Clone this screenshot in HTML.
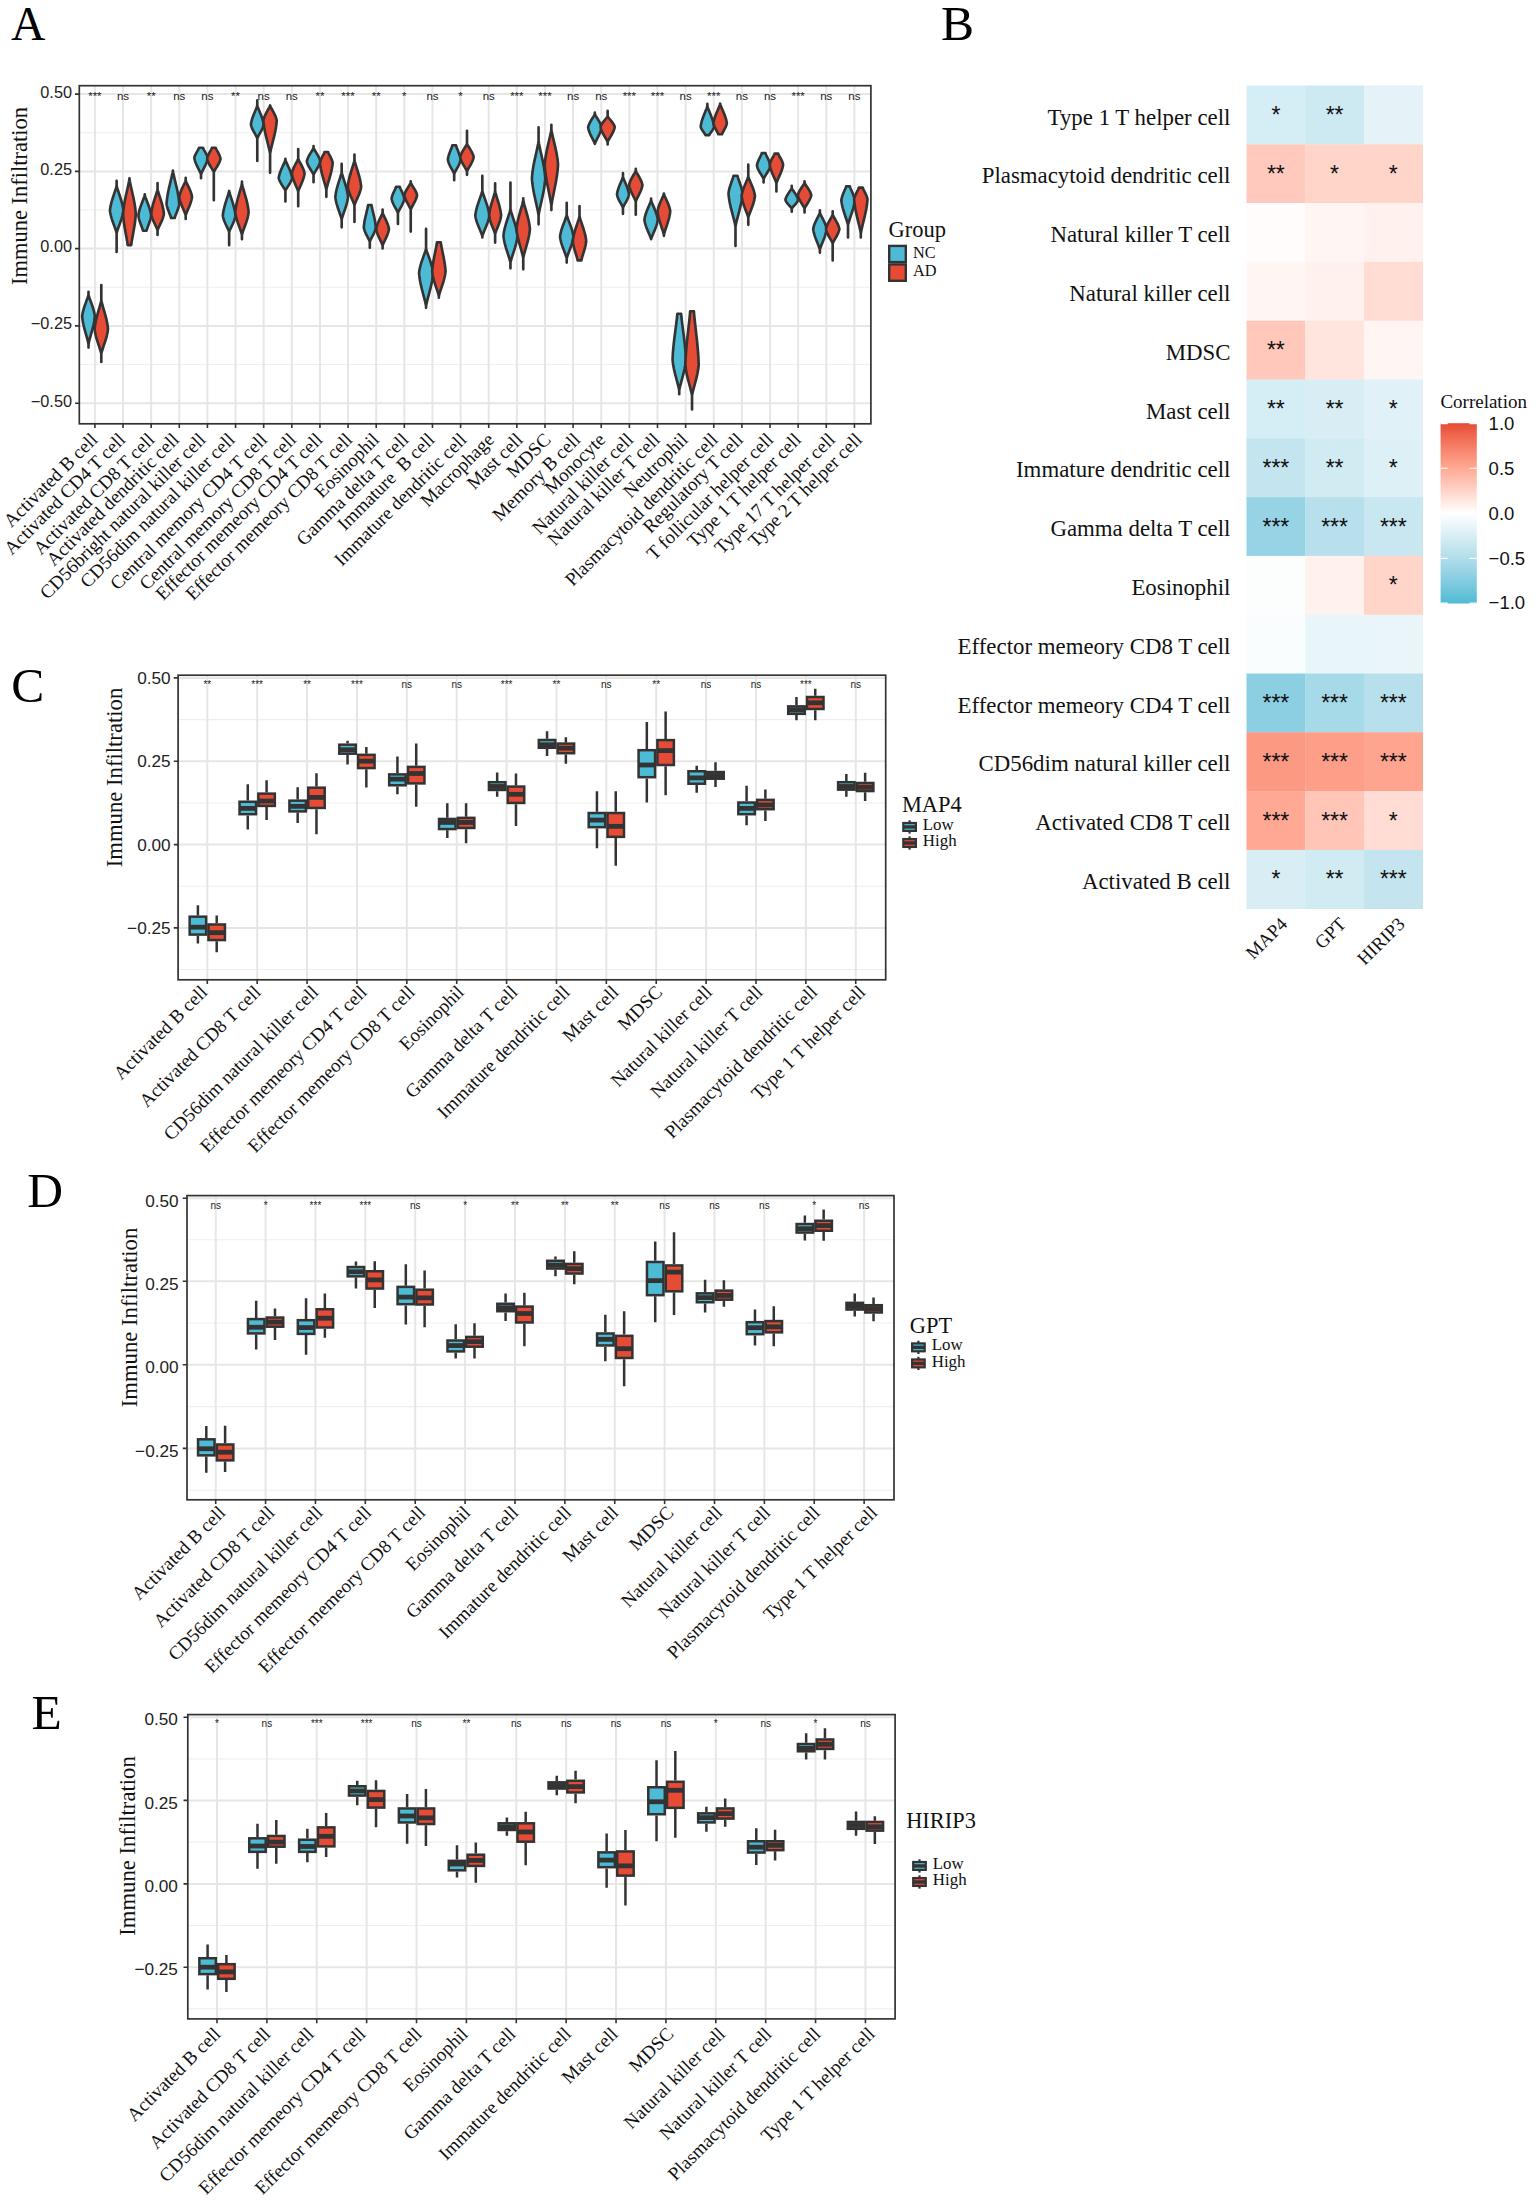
<!DOCTYPE html>
<html lang="en"><head><meta charset="utf-8"><title>Immune infiltration figure</title>
<style>html,body{margin:0;padding:0;background:#fff}svg{display:block}</style></head><body>
<svg width="1535" height="2202" viewBox="0 0 1535 2202">
<rect width="1535" height="2202" fill="#fff"/>
<g font-family="'Liberation Serif',serif" font-size="49.5" fill="#000">
<text x="10.9" y="39.9" font-size="47.6">A</text>
<text x="940.9" y="39.9">B</text>
<text x="11.2" y="702.4">C</text>
<text x="27.2" y="1207.3">D</text>
<text x="31.6" y="1729.0">E</text>
</g>
<rect x="79.3" y="85.7" width="791.6" height="338.1" fill="#fff"/>
<path d="M79.3 132.75H870.9M79.3 210H870.9M79.3 287.25H870.9M79.3 364.55H870.9" stroke="#efefef" stroke-width="1.1" fill="none"/>
<path d="M79.3 94.1H870.9M79.3 171.4H870.9M79.3 248.6H870.9M79.3 325.9H870.9M79.3 403.2H870.9M94.9 85.7V423.8M123.03 85.7V423.8M151.16 85.7V423.8M179.29 85.7V423.8M207.42 85.7V423.8M235.55 85.7V423.8M263.68 85.7V423.8M291.81 85.7V423.8M319.94 85.7V423.8M348.07 85.7V423.8M376.2 85.7V423.8M404.33 85.7V423.8M432.46 85.7V423.8M460.59 85.7V423.8M488.72 85.7V423.8M516.85 85.7V423.8M544.98 85.7V423.8M573.11 85.7V423.8M601.24 85.7V423.8M629.37 85.7V423.8M657.5 85.7V423.8M685.63 85.7V423.8M713.76 85.7V423.8M741.89 85.7V423.8M770.02 85.7V423.8M798.15 85.7V423.8M826.28 85.7V423.8M854.41 85.7V423.8" stroke="#e6e6e6" stroke-width="2" fill="none"/>
<g font-family="'Liberation Sans',sans-serif" font-size="11.5" fill="#222" text-anchor="middle">
<text x="94.9" y="100.3">***</text>
<text x="123.03" y="100.3">ns</text>
<text x="151.16" y="100.3">**</text>
<text x="179.29" y="100.3">ns</text>
<text x="207.42" y="100.3">ns</text>
<text x="235.55" y="100.3">**</text>
<text x="263.68" y="100.3">ns</text>
<text x="291.81" y="100.3">ns</text>
<text x="319.94" y="100.3">**</text>
<text x="348.07" y="100.3">***</text>
<text x="376.2" y="100.3">**</text>
<text x="404.33" y="100.3">*</text>
<text x="432.46" y="100.3">ns</text>
<text x="460.59" y="100.3">*</text>
<text x="488.72" y="100.3">ns</text>
<text x="516.85" y="100.3">***</text>
<text x="544.98" y="100.3">***</text>
<text x="573.11" y="100.3">ns</text>
<text x="601.24" y="100.3">ns</text>
<text x="629.37" y="100.3">***</text>
<text x="657.5" y="100.3">***</text>
<text x="685.63" y="100.3">ns</text>
<text x="713.76" y="100.3">***</text>
<text x="741.89" y="100.3">ns</text>
<text x="770.02" y="100.3">ns</text>
<text x="798.15" y="100.3">***</text>
<text x="826.28" y="100.3">ns</text>
<text x="854.41" y="100.3">ns</text>
</g>
<g stroke="#333333" stroke-width="2.65" stroke-linejoin="round" stroke-linecap="butt">
<path d="M88.5 291.72L88.5 294.59L88.89 296.14L89.39 297.69L89.93 299.24L90.49 300.79L91.06 302.34L91.62 303.88L92.18 305.43L92.7 306.98L93.19 308.53L93.64 310.08L94.04 311.63L94.37 313.18L94.64 314.73L94.84 316.28L94.64 318.27L94.37 320.27L94.04 322.26L93.64 324.25L93.19 326.24L92.7 328.24L92.18 330.23L91.62 332.22L91.06 334.22L90.49 336.21L89.93 338.2L89.39 340.2L88.89 342.19L88.5 344.18L88.5 347.62L88.5 344.18L88.11 342.19L87.61 340.2L87.07 338.2L86.51 336.21L85.94 334.22L85.38 332.22L84.82 330.23L84.3 328.24L83.81 326.24L83.36 324.25L82.96 322.26L82.63 320.27L82.36 318.27L82.16 316.28L82.36 314.73L82.63 313.18L82.96 311.63L83.36 310.08L83.81 308.53L84.3 306.98L84.82 305.43L85.38 303.88L85.94 302.34L86.51 300.79L87.07 299.24L87.61 297.69L88.11 296.14L88.5 294.59L88.5 291.72Z" fill="#4DBBD5"/>
<path d="M101.3 284.95L101.3 300.05L101.72 302.12L102.24 304.19L102.81 306.25L103.4 308.32L104 310.38L104.59 312.45L105.17 314.52L105.73 316.58L106.25 318.65L106.72 320.72L107.13 322.78L107.49 324.85L107.77 326.91L107.98 328.98L107.77 330.75L107.49 332.52L107.13 334.29L106.72 336.07L106.25 337.84L105.73 339.61L105.17 341.38L104.59 343.15L104 344.92L103.4 346.7L102.81 348.47L102.24 350.24L101.72 352.01L101.3 353.78L101.3 362.01L101.3 353.78L100.88 352.01L100.36 350.24L99.79 348.47L99.2 346.7L98.6 344.92L98.01 343.15L97.43 341.38L96.87 339.61L96.35 337.84L95.88 336.07L95.47 334.29L95.11 332.52L94.83 330.75L94.62 328.98L94.83 326.91L95.11 324.85L95.47 322.78L95.88 320.72L96.35 318.65L96.87 316.58L97.43 314.52L98.01 312.45L98.6 310.38L99.2 308.32L99.79 306.25L100.36 304.19L100.88 302.12L101.3 300.05L101.3 284.95Z" fill="#E64B35"/>
<path d="M116.63 180.78L116.63 185.62L117.05 187.39L117.57 189.16L118.14 190.93L118.73 192.7L119.33 194.48L119.92 196.25L120.5 198.02L121.06 199.79L121.58 201.56L122.05 203.33L122.46 205.11L122.82 206.88L123.1 208.65L123.31 210.42L123.1 212.04L122.82 213.67L122.46 215.29L122.05 216.91L121.58 218.54L121.06 220.16L120.5 221.78L119.92 223.41L119.33 225.03L118.73 226.65L118.14 228.28L117.57 229.9L117.05 231.53L116.63 233.15L116.63 251.92L116.63 233.15L116.21 231.53L115.69 229.9L115.12 228.28L114.53 226.65L113.93 225.03L113.34 223.41L112.76 221.78L112.2 220.16L111.68 218.54L111.21 216.91L110.8 215.29L110.44 213.67L110.16 212.04L109.95 210.42L110.16 208.65L110.44 206.88L110.8 205.11L111.21 203.33L111.68 201.56L112.2 199.79L112.76 198.02L113.34 196.25L113.93 194.48L114.53 192.7L115.12 190.93L115.69 189.16L116.21 187.39L116.63 185.62L116.63 180.78Z" fill="#4DBBD5"/>
<path d="M129.43 178.24L129.43 178.67L129.82 181.18L130.32 183.69L130.86 186.2L131.42 188.71L131.99 191.22L132.55 193.73L133.11 196.24L133.63 198.75L134.12 201.26L134.57 203.77L134.97 206.28L135.3 208.79L135.57 211.3L135.77 213.81L135.63 216.05L135.43 218.29L135.19 220.52L134.91 222.76L134.58 225L134.23 227.24L133.85 229.47L133.45 231.71L133.05 233.95L132.64 236.19L132.23 238.43L131.85 240.66L131.49 242.9L131.21 245.14L127.65 245.14L127.37 242.9L127.01 240.66L126.63 238.43L126.22 236.19L125.81 233.95L125.41 231.71L125.01 229.47L124.63 227.24L124.28 225L123.95 222.76L123.67 220.52L123.43 218.29L123.23 216.05L123.09 213.81L123.29 211.3L123.56 208.79L123.89 206.28L124.29 203.77L124.74 201.26L125.23 198.75L125.75 196.24L126.31 193.73L126.87 191.22L127.44 188.71L128 186.2L128.54 183.69L129.04 181.18L129.43 178.67L129.43 178.24Z" fill="#E64B35"/>
<path d="M144.76 194.33L144.76 194.83L145.15 196.31L145.65 197.79L146.19 199.26L146.75 200.74L147.32 202.21L147.88 203.69L148.44 205.17L148.96 206.64L149.45 208.12L149.9 209.6L150.3 211.07L150.63 212.55L150.9 214.02L151.1 215.5L150.96 216.59L150.76 217.68L150.52 218.77L150.24 219.86L149.91 220.95L149.56 222.04L149.18 223.12L148.78 224.21L148.38 225.3L147.97 226.39L147.56 227.48L147.18 228.57L146.82 229.66L146.54 230.75L142.98 230.75L142.7 229.66L142.34 228.57L141.96 227.48L141.55 226.39L141.14 225.3L140.74 224.21L140.34 223.12L139.96 222.04L139.61 220.95L139.28 219.86L139 218.77L138.76 217.68L138.56 216.59L138.42 215.5L138.62 214.02L138.89 212.55L139.22 211.07L139.62 209.6L140.07 208.12L140.56 206.64L141.08 205.17L141.64 203.69L142.2 202.21L142.77 200.74L143.33 199.26L143.87 197.79L144.37 196.31L144.76 194.83L144.76 194.33Z" fill="#4DBBD5"/>
<path d="M157.56 182.98L157.56 189.01L157.95 190.78L158.45 192.55L158.99 194.32L159.55 196.09L160.12 197.87L160.68 199.64L161.24 201.41L161.76 203.18L162.25 204.95L162.7 206.72L163.1 208.5L163.43 210.27L163.7 212.04L163.9 213.81L163.7 214.99L163.43 216.17L163.1 217.35L162.7 218.53L162.25 219.71L161.76 220.89L161.24 222.08L160.68 223.26L160.12 224.44L159.55 225.62L158.99 226.8L158.45 227.98L157.95 229.16L157.56 230.34L157.56 234.98L157.56 230.34L157.17 229.16L156.67 227.98L156.13 226.8L155.57 225.62L155 224.44L154.44 223.26L153.88 222.08L153.36 220.89L152.87 219.71L152.42 218.53L152.02 217.35L151.69 216.17L151.42 214.99L151.22 213.81L151.42 212.04L151.69 210.27L152.02 208.5L152.42 206.72L152.87 204.95L153.36 203.18L153.88 201.41L154.44 199.64L155 197.87L155.57 196.09L156.13 194.32L156.67 192.55L157.17 190.78L157.56 189.01L157.56 182.98Z" fill="#E64B35"/>
<path d="M172.89 170.62L172.89 170.62L173.28 172.98L173.78 175.34L174.32 177.7L174.88 180.05L175.45 182.41L176.01 184.77L176.57 187.13L177.09 189.49L177.58 191.85L178.03 194.21L178.43 196.56L178.76 198.92L179.03 201.28L179.23 203.64L179.09 204.67L178.89 205.7L178.65 206.73L178.37 207.75L178.04 208.78L177.69 209.81L177.31 210.84L176.91 211.87L176.51 212.9L176.1 213.93L175.69 214.95L175.31 215.98L174.95 217.01L174.67 218.04L171.11 218.04L170.83 217.01L170.47 215.98L170.09 214.95L169.68 213.93L169.27 212.9L168.87 211.87L168.47 210.84L168.09 209.81L167.74 208.78L167.41 207.75L167.13 206.73L166.89 205.7L166.69 204.67L166.55 203.64L166.75 201.28L167.02 198.92L167.35 196.56L167.75 194.21L168.2 191.85L168.69 189.49L169.21 187.13L169.77 184.77L170.33 182.41L170.9 180.05L171.46 177.7L172 175.34L172.5 172.98L172.89 170.62L172.89 170.62Z" fill="#4DBBD5"/>
<path d="M185.69 177.9L185.69 180.34L186.08 181.52L186.58 182.7L187.12 183.88L187.68 185.06L188.25 186.24L188.81 187.42L189.37 188.6L189.89 189.79L190.38 190.97L190.83 192.15L191.23 193.33L191.56 194.51L191.83 195.69L192.03 196.87L191.83 198.2L191.56 199.53L191.23 200.85L190.83 202.18L190.38 203.51L189.89 204.84L189.37 206.17L188.81 207.49L188.25 208.82L187.68 210.15L187.12 211.48L186.58 212.81L186.08 214.13L185.69 215.46L185.69 218.89L185.69 215.46L185.3 214.13L184.8 212.81L184.26 211.48L183.7 210.15L183.13 208.82L182.57 207.49L182.01 206.17L181.49 204.84L181 203.51L180.55 202.18L180.15 200.85L179.82 199.53L179.55 198.2L179.35 196.87L179.55 195.69L179.82 194.51L180.15 193.33L180.55 192.15L181 190.97L181.49 189.79L182.01 188.6L182.57 187.42L183.13 186.24L183.7 185.06L184.26 183.88L184.8 182.7L185.3 181.52L185.69 180.34L185.69 177.9Z" fill="#E64B35"/>
<path d="M202.89 147.75L203.19 148.48L203.57 149.2L203.97 149.93L204.4 150.65L204.83 151.38L205.26 152.1L205.68 152.83L206.08 153.56L206.45 154.28L206.79 155.01L207.09 155.73L207.35 156.46L207.55 157.18L207.7 157.91L207.49 159.09L207.21 160.27L206.85 161.45L206.44 162.63L205.97 163.81L205.45 164.99L204.89 166.18L204.31 167.36L203.72 168.54L203.12 169.72L202.53 170.9L201.96 172.08L201.44 173.26L201.02 174.44L201.02 178.24L201.02 174.44L200.6 173.26L200.08 172.08L199.51 170.9L198.92 169.72L198.32 168.54L197.73 167.36L197.15 166.18L196.59 164.99L196.07 163.81L195.6 162.63L195.19 161.45L194.83 160.27L194.55 159.09L194.34 157.91L194.49 157.18L194.69 156.46L194.95 155.73L195.25 155.01L195.59 154.28L195.96 153.56L196.36 152.83L196.78 152.1L197.21 151.38L197.64 150.65L198.07 149.93L198.47 149.2L198.85 148.48L199.15 147.75Z" fill="#4DBBD5"/>
<path d="M215.69 147.75L215.99 148.54L216.37 149.32L216.77 150.11L217.2 150.9L217.63 151.68L218.06 152.47L218.48 153.25L218.88 154.04L219.25 154.83L219.59 155.61L219.89 156.4L220.15 157.19L220.35 157.97L220.5 158.76L220.29 159.72L220.01 160.68L219.65 161.64L219.24 162.6L218.77 163.56L218.25 164.52L217.69 165.48L217.11 166.44L216.52 167.39L215.92 168.35L215.33 169.31L214.76 170.27L214.24 171.23L213.82 172.19L213.82 200.26L213.82 172.19L213.4 171.23L212.88 170.27L212.31 169.31L211.72 168.35L211.12 167.39L210.53 166.44L209.95 165.48L209.39 164.52L208.87 163.56L208.4 162.6L207.99 161.64L207.63 160.68L207.35 159.72L207.14 158.76L207.29 157.97L207.49 157.19L207.75 156.4L208.05 155.61L208.39 154.83L208.76 154.04L209.16 153.25L209.58 152.47L210.01 151.68L210.44 150.9L210.87 150.11L211.27 149.32L211.65 148.54L211.95 147.75Z" fill="#E64B35"/>
<path d="M229.15 190.94L229.15 190.94L229.54 192.69L230.04 194.45L230.58 196.2L231.14 197.96L231.71 199.71L232.27 201.47L232.83 203.22L233.35 204.97L233.84 206.73L234.29 208.48L234.69 210.24L235.02 211.99L235.29 213.75L235.49 215.5L235.29 216.68L235.02 217.86L234.69 219.04L234.29 220.22L233.84 221.4L233.35 222.58L232.83 223.77L232.27 224.95L231.71 226.13L231.14 227.31L230.58 228.49L230.04 229.67L229.54 230.85L229.15 232.03L229.15 245.14L229.15 232.03L228.76 230.85L228.26 229.67L227.72 228.49L227.16 227.31L226.59 226.13L226.03 224.95L225.47 223.77L224.95 222.58L224.46 221.4L224.01 220.22L223.61 219.04L223.28 217.86L223.01 216.68L222.81 215.5L223.01 213.75L223.28 211.99L223.61 210.24L224.01 208.48L224.46 206.73L224.95 204.97L225.47 203.22L226.03 201.47L226.59 199.71L227.16 197.96L227.72 196.2L228.26 194.45L228.76 192.69L229.15 190.94L229.15 190.94Z" fill="#4DBBD5"/>
<path d="M241.95 181.63L241.95 183.18L242.37 185.25L242.89 187.32L243.46 189.38L244.05 191.45L244.65 193.51L245.24 195.58L245.82 197.65L246.38 199.71L246.9 201.78L247.37 203.85L247.78 205.91L248.14 207.98L248.42 210.04L248.63 212.11L248.42 213.73L248.14 215.36L247.78 216.98L247.37 218.61L246.9 220.23L246.38 221.86L245.82 223.48L245.24 225.1L244.65 226.73L244.05 228.35L243.46 229.98L242.89 231.6L242.37 233.23L241.95 234.85L241.95 239.21L241.95 234.85L241.53 233.23L241.01 231.6L240.44 229.98L239.85 228.35L239.25 226.73L238.66 225.1L238.08 223.48L237.52 221.86L237 220.23L236.53 218.61L236.12 216.98L235.76 215.36L235.48 213.73L235.27 212.11L235.48 210.04L235.76 207.98L236.12 205.91L236.53 203.85L237 201.78L237.52 199.71L238.08 197.65L238.66 195.58L239.25 193.51L239.85 191.45L240.44 189.38L241.01 187.32L241.53 185.25L241.95 183.18L241.95 181.63Z" fill="#E64B35"/>
<path d="M257.28 100.33L257.28 105.36L257.67 106.72L258.17 108.08L258.71 109.44L259.27 110.79L259.84 112.15L260.4 113.51L260.96 114.87L261.48 116.23L261.97 117.59L262.42 118.95L262.82 120.3L263.15 121.66L263.42 123.02L263.62 124.38L263.42 125.38L263.15 126.39L262.82 127.39L262.42 128.39L261.97 129.4L261.48 130.4L260.96 131.4L260.4 132.4L259.84 133.41L259.27 134.41L258.71 135.41L258.17 136.42L257.67 137.42L257.28 138.42L257.28 160.96L257.28 138.42L256.89 137.42L256.39 136.42L255.85 135.41L255.29 134.41L254.72 133.41L254.16 132.4L253.6 131.4L253.08 130.4L252.59 129.4L252.14 128.39L251.74 127.39L251.41 126.39L251.14 125.38L250.94 124.38L251.14 123.02L251.41 121.66L251.74 120.3L252.14 118.95L252.59 117.59L253.08 116.23L253.6 114.87L254.16 113.51L254.72 112.15L255.29 110.79L255.85 109.44L256.39 108.08L256.89 106.72L257.28 105.36L257.28 100.33Z" fill="#4DBBD5"/>
<path d="M270.08 105.41L270.08 105.41L270.5 106.5L271.02 107.59L271.59 108.68L272.18 109.76L272.78 110.85L273.37 111.94L273.95 113.03L274.51 114.12L275.03 115.21L275.5 116.3L275.91 117.38L276.27 118.47L276.55 119.56L276.76 120.65L276.55 123.01L276.27 125.37L275.91 127.73L275.5 130.1L275.03 132.46L274.51 134.82L273.95 137.18L273.37 139.54L272.78 141.9L272.18 144.27L271.59 146.63L271.02 148.99L270.5 151.35L270.08 153.71L270.08 172.82L270.08 153.71L269.66 151.35L269.14 148.99L268.57 146.63L267.98 144.27L267.38 141.9L266.79 139.54L266.21 137.18L265.65 134.82L265.13 132.46L264.66 130.1L264.25 127.73L263.89 125.37L263.61 123.01L263.4 120.65L263.61 119.56L263.89 118.47L264.25 117.38L264.66 116.3L265.13 115.21L265.65 114.12L266.21 113.03L266.79 111.94L267.38 110.85L267.98 109.76L268.57 108.68L269.14 107.59L269.66 106.5L270.08 105.41L270.08 105.41Z" fill="#E64B35"/>
<path d="M285.41 158.76L285.41 159.71L285.83 161.01L286.35 162.31L286.92 163.61L287.51 164.91L288.11 166.21L288.7 167.51L289.28 168.8L289.84 170.1L290.36 171.4L290.83 172.7L291.24 174L291.6 175.3L291.88 176.6L292.09 177.9L291.88 178.81L291.6 179.73L291.24 180.65L290.83 181.56L290.36 182.47L289.84 183.39L289.28 184.31L288.7 185.22L288.11 186.14L287.51 187.05L286.92 187.97L286.35 188.88L285.83 189.8L285.41 190.71L285.41 201.44L285.41 190.71L284.99 189.8L284.47 188.88L283.9 187.97L283.31 187.05L282.71 186.14L282.12 185.22L281.54 184.31L280.98 183.39L280.46 182.47L279.99 181.56L279.58 180.65L279.22 179.73L278.94 178.81L278.73 177.9L278.94 176.6L279.22 175.3L279.58 174L279.99 172.7L280.46 171.4L280.98 170.1L281.54 168.8L282.12 167.51L282.71 166.21L283.31 164.91L283.9 163.61L284.47 162.31L284.99 161.01L285.41 159.71L285.41 158.76Z" fill="#4DBBD5"/>
<path d="M298.21 149.11L298.21 158.62L298.6 159.68L299.1 160.74L299.64 161.81L300.2 162.87L300.77 163.93L301.33 164.99L301.89 166.06L302.41 167.12L302.9 168.18L303.35 169.25L303.75 170.31L304.08 171.37L304.35 172.44L304.55 173.5L304.35 174.8L304.08 176.1L303.75 177.4L303.35 178.69L302.9 179.99L302.41 181.29L301.89 182.59L301.33 183.89L300.77 185.19L300.2 186.48L299.64 187.78L299.1 189.08L298.6 190.38L298.21 191.68L298.21 206.19L298.21 191.68L297.82 190.38L297.32 189.08L296.78 187.78L296.22 186.48L295.65 185.19L295.09 183.89L294.53 182.59L294.01 181.29L293.52 179.99L293.07 178.69L292.67 177.4L292.34 176.1L292.07 174.8L291.87 173.5L292.07 172.44L292.34 171.37L292.67 170.31L293.07 169.25L293.52 168.18L294.01 167.12L294.53 166.06L295.09 164.99L295.65 163.93L296.22 162.87L296.78 161.81L297.32 160.74L297.82 159.68L298.21 158.62L298.21 149.11Z" fill="#E64B35"/>
<path d="M313.54 146.06L313.54 147.87L313.96 148.83L314.48 149.79L315.05 150.75L315.64 151.71L316.24 152.67L316.83 153.62L317.41 154.58L317.97 155.54L318.49 156.5L318.96 157.46L319.37 158.42L319.73 159.38L320.01 160.34L320.22 161.3L320.01 162.26L319.73 163.22L319.37 164.18L318.96 165.14L318.49 166.1L317.97 167.06L317.41 168.02L316.83 168.98L316.24 169.93L315.64 170.89L315.05 171.85L314.48 172.81L313.96 173.77L313.54 174.73L313.54 182.13L313.54 174.73L313.12 173.77L312.6 172.81L312.03 171.85L311.44 170.89L310.84 169.93L310.25 168.98L309.67 168.02L309.11 167.06L308.59 166.1L308.12 165.14L307.71 164.18L307.35 163.22L307.07 162.26L306.86 161.3L307.07 160.34L307.35 159.38L307.71 158.42L308.12 157.46L308.59 156.5L309.11 155.54L309.67 154.58L310.25 153.62L310.84 152.67L311.44 151.71L312.03 150.75L312.6 149.79L313.12 148.83L313.54 147.87L313.54 146.06Z" fill="#4DBBD5"/>
<path d="M328.12 151.99L328.4 152.78L328.76 153.56L329.14 154.35L329.55 155.13L329.96 155.92L330.36 156.7L330.76 157.49L331.14 158.28L331.49 159.06L331.82 159.85L332.1 160.63L332.34 161.42L332.54 162.2L332.68 162.99L332.48 164.91L332.21 166.83L331.88 168.75L331.48 170.67L331.03 172.58L330.54 174.5L330.02 176.42L329.46 178.34L328.9 180.26L328.33 182.18L327.77 184.1L327.23 186.02L326.73 187.94L326.34 189.85L326.34 196.87L326.34 189.85L325.95 187.94L325.45 186.02L324.91 184.1L324.35 182.18L323.78 180.26L323.22 178.34L322.66 176.42L322.14 174.5L321.65 172.58L321.2 170.67L320.8 168.75L320.47 166.83L320.2 164.91L320 162.99L320.14 162.2L320.34 161.42L320.58 160.63L320.86 159.85L321.19 159.06L321.54 158.28L321.92 157.49L322.32 156.7L322.72 155.92L323.13 155.13L323.54 154.35L323.92 153.56L324.28 152.78L324.56 151.99Z" fill="#E64B35"/>
<path d="M341.67 163.84L341.67 172.07L342.06 173.84L342.56 175.61L343.1 177.38L343.66 179.15L344.23 180.93L344.79 182.7L345.35 184.47L345.87 186.24L346.36 188.01L346.81 189.78L347.21 191.56L347.54 193.33L347.81 195.1L348.01 196.87L347.81 198.49L347.54 200.12L347.21 201.74L346.81 203.36L346.36 204.99L345.87 206.61L345.35 208.23L344.79 209.86L344.23 211.48L343.66 213.1L343.1 214.73L342.56 216.35L342.06 217.98L341.67 219.6L341.67 227.36L341.67 219.6L341.28 217.98L340.78 216.35L340.24 214.73L339.68 213.1L339.11 211.48L338.55 209.86L337.99 208.23L337.47 206.61L336.98 204.99L336.53 203.36L336.13 201.74L335.8 200.12L335.53 198.49L335.33 196.87L335.53 195.1L335.8 193.33L336.13 191.56L336.53 189.78L336.98 188.01L337.47 186.24L337.99 184.47L338.55 182.7L339.11 180.93L339.68 179.15L340.24 177.38L340.78 175.61L341.28 173.84L341.67 172.07L341.67 163.84Z" fill="#4DBBD5"/>
<path d="M354.47 154.53L354.47 159.85L354.89 161.76L355.41 163.68L355.98 165.6L356.57 167.52L357.17 169.44L357.76 171.36L358.34 173.28L358.9 175.2L359.42 177.12L359.89 179.03L360.3 180.95L360.66 182.87L360.94 184.79L361.15 186.71L360.94 188.04L360.66 189.37L360.3 190.69L359.89 192.02L359.42 193.35L358.9 194.68L358.34 196.01L357.76 197.33L357.17 198.66L356.57 199.99L355.98 201.32L355.41 202.65L354.89 203.97L354.47 205.3L354.47 221.94L354.47 205.3L354.05 203.97L353.53 202.65L352.96 201.32L352.37 199.99L351.77 198.66L351.18 197.33L350.6 196.01L350.04 194.68L349.52 193.35L349.05 192.02L348.64 190.69L348.28 189.37L348 188.04L347.79 186.71L348 184.79L348.28 182.87L348.64 180.95L349.05 179.03L349.52 177.12L350.04 175.2L350.6 173.28L351.18 171.36L351.77 169.44L352.37 167.52L352.96 165.6L353.53 163.68L354.05 161.76L354.47 159.85L354.47 154.53Z" fill="#E64B35"/>
<path d="M371.48 205L371.75 206.6L372.09 208.19L372.45 209.79L372.84 211.39L373.22 212.99L373.61 214.58L373.98 216.18L374.34 217.78L374.68 219.37L374.98 220.97L375.25 222.57L375.48 224.17L375.67 225.76L375.8 227.36L375.61 228.39L375.36 229.43L375.04 230.46L374.67 231.49L374.24 232.52L373.78 233.56L373.28 234.59L372.76 235.62L372.22 236.65L371.68 237.69L371.15 238.72L370.64 239.75L370.17 240.78L369.8 241.82L369.8 247.68L369.8 241.82L369.43 240.78L368.96 239.75L368.45 238.72L367.92 237.69L367.38 236.65L366.84 235.62L366.32 234.59L365.82 233.56L365.36 232.52L364.93 231.49L364.56 230.46L364.24 229.43L363.99 228.39L363.8 227.36L363.93 225.76L364.12 224.17L364.35 222.57L364.62 220.97L364.92 219.37L365.26 217.78L365.62 216.18L365.99 214.58L366.38 212.99L366.76 211.39L367.15 209.79L367.51 208.19L367.85 206.6L368.12 205Z" fill="#4DBBD5"/>
<path d="M382.6 209.57L382.6 212.52L382.99 213.7L383.49 214.88L384.03 216.06L384.59 217.24L385.16 218.42L385.72 219.6L386.28 220.78L386.8 221.97L387.29 223.15L387.74 224.33L388.14 225.51L388.47 226.69L388.74 227.87L388.94 229.05L388.74 230.23L388.47 231.41L388.14 232.59L387.74 233.77L387.29 234.95L386.8 236.13L386.28 237.32L385.72 238.5L385.16 239.68L384.59 240.86L384.03 242.04L383.49 243.22L382.99 244.4L382.6 245.58L382.6 248.53L382.6 245.58L382.21 244.4L381.71 243.22L381.17 242.04L380.61 240.86L380.04 239.68L379.48 238.5L378.92 237.32L378.4 236.13L377.91 234.95L377.46 233.77L377.06 232.59L376.73 231.41L376.46 230.23L376.26 229.05L376.46 227.87L376.73 226.69L377.06 225.51L377.46 224.33L377.91 223.15L378.4 221.97L378.92 220.78L379.48 219.6L380.04 218.42L380.61 217.24L381.17 216.06L381.71 214.88L382.21 213.7L382.6 212.52L382.6 209.57Z" fill="#E64B35"/>
<path d="M399.71 186.71L399.99 187.56L400.35 188.4L400.73 189.25L401.14 190.1L401.55 190.94L401.95 191.79L402.35 192.63L402.73 193.48L403.08 194.33L403.41 195.17L403.69 196.02L403.93 196.87L404.13 197.71L404.27 198.56L404.07 199.59L403.8 200.63L403.47 201.66L403.07 202.69L402.62 203.73L402.13 204.76L401.61 205.79L401.05 206.83L400.49 207.86L399.92 208.9L399.36 209.93L398.82 210.96L398.32 212L397.93 213.03L397.93 223.97L397.93 213.03L397.54 212L397.04 210.96L396.5 209.93L395.94 208.9L395.37 207.86L394.81 206.83L394.25 205.79L393.73 204.76L393.24 203.73L392.79 202.69L392.39 201.66L392.06 200.63L391.79 199.59L391.59 198.56L391.73 197.71L391.93 196.87L392.17 196.02L392.45 195.17L392.78 194.33L393.13 193.48L393.51 192.63L393.91 191.79L394.31 190.94L394.72 190.1L395.13 189.25L395.51 188.4L395.87 187.56L396.15 186.71Z" fill="#4DBBD5"/>
<path d="M410.73 181.29L410.73 182.77L411.12 183.66L411.62 184.55L412.16 185.43L412.72 186.32L413.29 187.2L413.85 188.09L414.41 188.98L414.93 189.86L415.42 190.75L415.87 191.64L416.27 192.52L416.6 193.41L416.87 194.29L417.07 195.18L416.87 196.21L416.6 197.25L416.27 198.28L415.87 199.31L415.42 200.34L414.93 201.38L414.41 202.41L413.85 203.44L413.29 204.47L412.72 205.51L412.16 206.54L411.62 207.57L411.12 208.6L410.73 209.64L410.73 231.59L410.73 209.64L410.34 208.6L409.84 207.57L409.3 206.54L408.74 205.51L408.17 204.47L407.61 203.44L407.05 202.41L406.53 201.38L406.04 200.34L405.59 199.31L405.19 198.28L404.86 197.25L404.59 196.21L404.39 195.18L404.59 194.29L404.86 193.41L405.19 192.52L405.59 191.64L406.04 190.75L406.53 189.86L407.05 188.98L407.61 188.09L408.17 187.2L408.74 186.32L409.3 185.43L409.84 184.55L410.34 183.66L410.73 182.77L410.73 181.29Z" fill="#E64B35"/>
<path d="M426.06 228.71L426.06 248.29L426.5 250.06L427.04 251.83L427.64 253.6L428.26 255.37L428.89 257.15L429.51 258.92L430.12 260.69L430.71 262.46L431.25 264.23L431.75 266L432.18 267.78L432.55 269.55L432.85 271.32L433.07 273.09L432.85 275.45L432.55 277.81L432.18 280.17L431.75 282.54L431.25 284.9L430.71 287.26L430.12 289.62L429.51 291.98L428.89 294.34L428.26 296.71L427.64 299.07L427.04 301.43L426.5 303.79L426.06 306.15L426.06 307.81L426.06 306.15L425.62 303.79L425.08 301.43L424.48 299.07L423.86 296.71L423.23 294.34L422.61 291.98L422 289.62L421.41 287.26L420.87 284.9L420.37 282.54L419.94 280.17L419.57 277.81L419.27 275.45L419.05 273.09L419.27 271.32L419.57 269.55L419.94 267.78L420.37 266L420.87 264.23L421.41 262.46L422 260.69L422.61 258.92L423.23 257.15L423.86 255.37L424.48 253.6L425.08 251.83L425.62 250.06L426.06 248.29L426.06 228.71Z" fill="#4DBBD5"/>
<path d="M440.73 242.26L441.03 244.34L441.41 246.42L441.81 248.5L442.24 250.59L442.67 252.67L443.1 254.75L443.52 256.83L443.92 258.91L444.29 260.99L444.63 263.07L444.93 265.16L445.19 267.24L445.39 269.32L445.54 271.4L445.33 273.17L445.05 274.94L444.69 276.71L444.28 278.48L443.81 280.25L443.29 282.02L442.73 283.8L442.15 285.57L441.56 287.34L440.96 289.11L440.37 290.88L439.8 292.65L439.28 294.42L438.86 296.19L438.86 297.65L438.86 296.19L438.44 294.42L437.92 292.65L437.35 290.88L436.76 289.11L436.16 287.34L435.57 285.57L434.99 283.8L434.43 282.02L433.91 280.25L433.44 278.48L433.03 276.71L432.67 274.94L432.39 273.17L432.18 271.4L432.33 269.32L432.53 267.24L432.79 265.16L433.09 263.07L433.43 260.99L433.8 258.91L434.2 256.83L434.62 254.75L435.05 252.67L435.48 250.59L435.91 248.5L436.31 246.42L436.69 244.34L436.99 242.26Z" fill="#E64B35"/>
<path d="M455.97 145.21L456.25 146.24L456.61 147.27L456.99 148.3L457.4 149.32L457.81 150.35L458.21 151.38L458.61 152.41L458.99 153.44L459.34 154.47L459.67 155.5L459.95 156.52L460.19 157.55L460.39 158.58L460.53 159.61L460.33 160.64L460.06 161.68L459.73 162.71L459.33 163.74L458.88 164.77L458.39 165.81L457.87 166.84L457.31 167.87L456.75 168.9L456.18 169.94L455.62 170.97L455.08 172L454.58 173.03L454.19 174.07L454.19 180.27L454.19 174.07L453.8 173.03L453.3 172L452.76 170.97L452.2 169.94L451.63 168.9L451.07 167.87L450.51 166.84L449.99 165.81L449.5 164.77L449.05 163.74L448.65 162.71L448.32 161.68L448.05 160.64L447.85 159.61L447.99 158.58L448.19 157.55L448.43 156.52L448.71 155.5L449.04 154.47L449.39 153.44L449.77 152.41L450.17 151.38L450.57 150.35L450.98 149.32L451.39 148.3L451.77 147.27L452.13 146.24L452.41 145.21Z" fill="#4DBBD5"/>
<path d="M466.99 130.81L466.99 143.64L467.41 144.6L467.93 145.56L468.5 146.52L469.09 147.48L469.69 148.44L470.28 149.39L470.86 150.35L471.42 151.31L471.94 152.27L472.41 153.23L472.82 154.19L473.18 155.15L473.46 156.11L473.67 157.07L473.46 158.1L473.18 159.14L472.82 160.17L472.41 161.2L471.94 162.23L471.42 163.27L470.86 164.3L470.28 165.33L469.69 166.36L469.09 167.4L468.5 168.43L467.93 169.46L467.41 170.49L466.99 171.53L466.99 174.85L466.99 171.53L466.57 170.49L466.05 169.46L465.48 168.43L464.89 167.4L464.29 166.36L463.7 165.33L463.12 164.3L462.56 163.27L462.04 162.23L461.57 161.2L461.16 160.17L460.8 159.14L460.52 158.1L460.31 157.07L460.52 156.11L460.8 155.15L461.16 154.19L461.57 153.23L462.04 152.27L462.56 151.31L463.12 150.35L463.7 149.39L464.29 148.44L464.89 147.48L465.48 146.52L466.05 145.56L466.57 144.6L466.99 143.64L466.99 130.81Z" fill="#E64B35"/>
<path d="M482.32 175.7L482.32 190.71L482.76 192.48L483.3 194.25L483.9 196.02L484.52 197.79L485.15 199.56L485.77 201.33L486.38 203.1L486.97 204.88L487.51 206.65L488.01 208.42L488.44 210.19L488.81 211.96L489.11 213.73L489.33 215.5L489.11 216.98L488.81 218.45L488.44 219.93L488.01 221.4L487.51 222.88L486.97 224.36L486.38 225.83L485.77 227.31L485.15 228.79L484.52 230.26L483.9 231.74L483.3 233.21L482.76 234.69L482.32 236.17L482.32 237.52L482.32 236.17L481.88 234.69L481.34 233.21L480.74 231.74L480.12 230.26L479.49 228.79L478.87 227.31L478.26 225.83L477.67 224.36L477.13 222.88L476.63 221.4L476.2 219.93L475.83 218.45L475.53 216.98L475.31 215.5L475.53 213.73L475.83 211.96L476.2 210.19L476.63 208.42L477.13 206.65L477.67 204.88L478.26 203.1L478.87 201.33L479.49 199.56L480.12 197.79L480.74 196.02L481.34 194.25L481.88 192.48L482.32 190.71L482.32 175.7Z" fill="#4DBBD5"/>
<path d="M495.12 183.32L495.12 190.71L495.49 192.48L495.96 194.25L496.47 196.02L497 197.79L497.54 199.56L498.08 201.33L498.6 203.1L499.1 204.88L499.56 206.65L499.99 208.42L500.36 210.19L500.68 211.96L500.93 213.73L501.12 215.5L500.93 216.83L500.68 218.16L500.36 219.49L499.99 220.82L499.56 222.14L499.1 223.47L498.6 224.8L498.08 226.13L497.54 227.46L497 228.79L496.47 230.12L495.96 231.45L495.49 232.78L495.12 234.1L495.12 242.6L495.12 234.1L494.75 232.78L494.28 231.45L493.77 230.12L493.24 228.79L492.7 227.46L492.16 226.13L491.64 224.8L491.14 223.47L490.68 222.14L490.25 220.82L489.88 219.49L489.56 218.16L489.31 216.83L489.12 215.5L489.31 213.73L489.56 211.96L489.88 210.19L490.25 208.42L490.68 206.65L491.14 204.88L491.64 203.1L492.16 201.33L492.7 199.56L493.24 197.79L493.77 196.02L494.28 194.25L494.75 192.48L495.12 190.71L495.12 183.32Z" fill="#E64B35"/>
<path d="M510.45 182.47L510.45 208.97L510.89 210.88L511.43 212.8L512.03 214.72L512.65 216.64L513.28 218.56L513.9 220.48L514.51 222.4L515.1 224.32L515.64 226.24L516.14 228.15L516.57 230.07L516.94 231.99L517.24 233.91L517.46 235.83L517.24 237.75L516.94 239.67L516.57 241.59L516.14 243.51L515.64 245.42L515.1 247.34L514.51 249.26L513.9 251.18L513.28 253.1L512.65 255.02L512.03 256.94L511.43 258.86L510.89 260.78L510.45 262.69L510.45 268.35L510.45 262.69L510.01 260.78L509.47 258.86L508.87 256.94L508.25 255.02L507.62 253.1L507 251.18L506.39 249.26L505.8 247.34L505.26 245.42L504.76 243.51L504.33 241.59L503.96 239.67L503.66 237.75L503.44 235.83L503.66 233.91L503.96 231.99L504.33 230.07L504.76 228.15L505.26 226.24L505.8 224.32L506.39 222.4L507 220.48L507.62 218.56L508.25 216.64L508.87 214.72L509.47 212.8L510.01 210.88L510.45 208.97L510.45 182.47Z" fill="#4DBBD5"/>
<path d="M523.25 198.22L523.25 200.12L523.67 202.19L524.19 204.26L524.76 206.32L525.35 208.39L525.95 210.45L526.54 212.52L527.12 214.59L527.68 216.65L528.2 218.72L528.67 220.79L529.08 222.85L529.44 224.92L529.72 226.98L529.93 229.05L529.72 231.12L529.44 233.18L529.08 235.25L528.67 237.31L528.2 239.38L527.68 241.45L527.12 243.51L526.54 245.58L525.95 247.65L525.35 249.71L524.76 251.78L524.19 253.84L523.67 255.91L523.25 257.98L523.25 269.36L523.25 257.98L522.83 255.91L522.31 253.84L521.74 251.78L521.15 249.71L520.55 247.65L519.96 245.58L519.38 243.51L518.82 241.45L518.3 239.38L517.83 237.31L517.42 235.25L517.06 233.18L516.78 231.12L516.57 229.05L516.78 226.98L517.06 224.92L517.42 222.85L517.83 220.79L518.3 218.72L518.82 216.65L519.38 214.59L519.96 212.52L520.55 210.45L521.15 208.39L521.74 206.32L522.31 204.26L522.83 202.19L523.25 200.12L523.25 198.22Z" fill="#E64B35"/>
<path d="M538.58 127.43L538.58 141.04L539 143.7L539.52 146.36L540.09 149.01L540.68 151.67L541.28 154.33L541.87 156.98L542.45 159.64L543.01 162.3L543.53 164.96L544 167.61L544.41 170.27L544.77 172.93L545.05 175.58L545.26 178.24L545.05 180.9L544.77 183.55L544.41 186.21L544 188.87L543.53 191.52L543.01 194.18L542.45 196.84L541.87 199.5L541.28 202.15L540.68 204.81L540.09 207.47L539.52 210.12L539 212.78L538.58 215.44L538.58 224.31L538.58 215.44L538.16 212.78L537.64 210.12L537.07 207.47L536.48 204.81L535.88 202.15L535.29 199.5L534.71 196.84L534.15 194.18L533.63 191.52L533.16 188.87L532.75 186.21L532.39 183.55L532.11 180.9L531.9 178.24L532.11 175.58L532.39 172.93L532.75 170.27L533.16 167.61L533.63 164.96L534.15 162.3L534.71 159.64L535.29 156.98L535.88 154.33L536.48 151.67L537.07 149.01L537.64 146.36L538.16 143.7L538.58 141.04L538.58 127.43Z" fill="#4DBBD5"/>
<path d="M551.38 124.88L551.38 129.55L551.8 132.06L552.32 134.57L552.89 137.08L553.48 139.59L554.08 142.1L554.67 144.61L555.25 147.12L555.81 149.63L556.33 152.14L556.8 154.65L557.21 157.16L557.57 159.67L557.85 162.18L558.06 164.69L557.85 167.64L557.57 170.59L557.21 173.54L556.8 176.5L556.33 179.45L555.81 182.4L555.25 185.35L554.67 188.3L554.08 191.25L553.48 194.21L552.89 197.16L552.32 200.11L551.8 203.06L551.38 206.01L551.38 210.08L551.38 206.01L550.96 203.06L550.44 200.11L549.87 197.16L549.28 194.21L548.68 191.25L548.09 188.3L547.51 185.35L546.95 182.4L546.43 179.45L545.96 176.5L545.55 173.54L545.19 170.59L544.91 167.64L544.7 164.69L544.91 162.18L545.19 159.67L545.55 157.16L545.96 154.65L546.43 152.14L546.95 149.63L547.51 147.12L548.09 144.61L548.68 142.1L549.28 139.59L549.87 137.08L550.44 134.57L550.96 132.06L551.38 129.55L551.38 124.88Z" fill="#E64B35"/>
<path d="M566.71 202.8L566.71 214.98L567.13 216.53L567.65 218.08L568.22 219.63L568.81 221.18L569.41 222.73L570 224.27L570.58 225.82L571.14 227.37L571.66 228.92L572.13 230.47L572.54 232.02L572.9 233.57L573.18 235.12L573.39 236.67L573.18 238.22L572.9 239.77L572.54 241.32L572.13 242.87L571.66 244.42L571.14 245.97L570.58 247.52L570 249.07L569.41 250.62L568.81 252.17L568.22 253.72L567.65 255.27L567.13 256.82L566.71 258.37L566.71 262.59L566.71 258.37L566.29 256.82L565.77 255.27L565.2 253.72L564.61 252.17L564.01 250.62L563.42 249.07L562.84 247.52L562.28 245.97L561.76 244.42L561.29 242.87L560.88 241.32L560.52 239.77L560.24 238.22L560.03 236.67L560.24 235.12L560.52 233.57L560.88 232.02L561.29 230.47L561.76 228.92L562.28 227.37L562.84 225.82L563.42 224.27L564.01 222.73L564.61 221.18L565.2 219.63L565.77 218.08L566.29 216.53L566.71 214.98L566.71 202.8Z" fill="#4DBBD5"/>
<path d="M579.51 206.19L579.51 216.11L579.93 217.88L580.45 219.65L581.02 221.42L581.61 223.19L582.21 224.97L582.8 226.74L583.38 228.51L583.94 230.28L584.46 232.05L584.93 233.82L585.34 235.6L585.7 237.37L585.98 239.14L586.19 240.91L586.04 242.3L585.84 243.69L585.58 245.08L585.28 246.48L584.94 247.87L584.57 249.26L584.17 250.65L583.75 252.04L583.32 253.43L582.89 254.82L582.46 256.22L582.06 257.61L581.68 259L581.38 260.39L577.64 260.39L577.34 259L576.96 257.61L576.56 256.22L576.13 254.82L575.7 253.43L575.27 252.04L574.85 250.65L574.45 249.26L574.08 247.87L573.74 246.48L573.44 245.08L573.18 243.69L572.98 242.3L572.83 240.91L573.04 239.14L573.32 237.37L573.68 235.6L574.09 233.82L574.56 232.05L575.08 230.28L575.64 228.51L576.22 226.74L576.81 224.97L577.41 223.19L578 221.42L578.57 219.65L579.09 217.88L579.51 216.11L579.51 206.19Z" fill="#E64B35"/>
<path d="M594.84 112.6L594.84 113.98L595.26 114.94L595.78 115.9L596.35 116.86L596.94 117.81L597.54 118.77L598.14 119.73L598.72 120.69L599.28 121.65L599.8 122.61L600.27 123.57L600.69 124.52L601.05 125.48L601.33 126.44L601.54 127.4L601.33 128.58L601.05 129.76L600.69 130.94L600.27 132.11L599.8 133.29L599.28 134.47L598.72 135.65L598.14 136.83L597.54 138.01L596.94 139.19L596.35 140.36L595.78 141.54L595.26 142.72L594.84 143.9L594.84 143.9L594.84 143.9L594.42 142.72L593.9 141.54L593.33 140.36L592.74 139.19L592.14 138.01L591.54 136.83L590.96 135.65L590.4 134.47L589.88 133.29L589.41 132.11L588.99 130.94L588.63 129.76L588.35 128.58L588.14 127.4L588.35 126.44L588.63 125.48L588.99 124.52L589.41 123.57L589.88 122.61L590.4 121.65L590.96 120.69L591.54 119.73L592.14 118.77L592.74 117.81L593.33 116.86L593.9 115.9L594.42 114.94L594.84 113.98L594.84 112.6Z" fill="#4DBBD5"/>
<path d="M607.64 110.9L607.64 116.14L608.08 116.92L608.64 117.69L609.24 118.47L609.87 119.24L610.51 120.02L611.14 120.8L611.76 121.57L612.35 122.35L612.9 123.12L613.4 123.9L613.84 124.67L614.22 125.45L614.52 126.22L614.74 127L614.52 128.07L614.22 129.14L613.84 130.22L613.4 131.29L612.9 132.36L612.35 133.43L611.76 134.5L611.14 135.57L610.51 136.65L609.87 137.72L609.24 138.79L608.64 139.86L608.08 140.93L607.64 142.01L607.64 144.4L607.64 142.01L607.2 140.93L606.64 139.86L606.04 138.79L605.41 137.72L604.77 136.65L604.14 135.57L603.52 134.5L602.93 133.43L602.38 132.36L601.88 131.29L601.44 130.22L601.06 129.14L600.76 128.07L600.54 127L600.76 126.22L601.06 125.45L601.44 124.67L601.88 123.9L602.38 123.12L602.93 122.35L603.52 121.57L604.14 120.8L604.77 120.02L605.41 119.24L606.04 118.47L606.64 117.69L607.2 116.92L607.64 116.14L607.64 110.9Z" fill="#E64B35"/>
<path d="M622.97 173.16L622.97 176.76L623.34 178.02L623.81 179.27L624.32 180.53L624.85 181.78L625.39 183.04L625.93 184.29L626.45 185.55L626.95 186.8L627.41 188.06L627.84 189.31L628.21 190.57L628.53 191.82L628.78 193.08L628.97 194.33L628.78 195.29L628.53 196.25L628.21 197.21L627.84 198.17L627.41 199.13L626.95 200.09L626.45 201.05L625.93 202.01L625.39 202.96L624.85 203.92L624.32 204.88L623.81 205.84L623.34 206.8L622.97 207.76L622.97 213.81L622.97 207.76L622.6 206.8L622.13 205.84L621.62 204.88L621.09 203.92L620.55 202.96L620.01 202.01L619.49 201.05L618.99 200.09L618.53 199.13L618.1 198.17L617.73 197.21L617.41 196.25L617.16 195.29L616.97 194.33L617.16 193.08L617.41 191.82L617.73 190.57L618.1 189.31L618.53 188.06L618.99 186.8L619.49 185.55L620.01 184.29L620.55 183.04L621.09 181.78L621.62 180.53L622.13 179.27L622.6 178.02L622.97 176.76L622.97 173.16Z" fill="#4DBBD5"/>
<path d="M635.77 168.92L635.77 170.55L636.19 171.59L636.71 172.62L637.28 173.65L637.87 174.68L638.47 175.72L639.06 176.75L639.64 177.78L640.2 178.81L640.72 179.85L641.19 180.88L641.6 181.91L641.96 182.94L642.24 183.98L642.45 185.01L642.24 186.19L641.96 187.37L641.6 188.55L641.19 189.73L640.72 190.91L640.2 192.09L639.64 193.28L639.06 194.46L638.47 195.64L637.87 196.82L637.28 198L636.71 199.18L636.19 200.36L635.77 201.54L635.77 214.65L635.77 201.54L635.35 200.36L634.83 199.18L634.26 198L633.67 196.82L633.07 195.64L632.48 194.46L631.9 193.28L631.34 192.09L630.82 190.91L630.35 189.73L629.94 188.55L629.58 187.37L629.3 186.19L629.09 185.01L629.3 183.98L629.58 182.94L629.94 181.91L630.35 180.88L630.82 179.85L631.34 178.81L631.9 177.78L632.48 176.75L633.07 175.72L633.67 174.68L634.26 173.65L634.83 172.62L635.35 171.59L635.77 170.55L635.77 168.92Z" fill="#E64B35"/>
<path d="M651.1 198.56L651.1 200.1L651.52 201.5L652.04 202.9L652.61 204.31L653.2 205.71L653.8 207.11L654.39 208.52L654.97 209.92L655.53 211.32L656.05 212.72L656.52 214.13L656.93 215.53L657.29 216.93L657.57 218.34L657.78 219.74L657.57 221.13L657.29 222.52L656.93 223.91L656.52 225.3L656.05 226.69L655.53 228.08L654.97 229.48L654.39 230.87L653.8 232.26L653.2 233.65L652.61 235.04L652.04 236.43L651.52 237.82L651.1 239.21L651.1 239.21L651.1 239.21L650.68 237.82L650.16 236.43L649.59 235.04L649 233.65L648.4 232.26L647.81 230.87L647.23 229.48L646.67 228.08L646.15 226.69L645.68 225.3L645.27 223.91L644.91 222.52L644.63 221.13L644.42 219.74L644.63 218.34L644.91 216.93L645.27 215.53L645.68 214.13L646.15 212.72L646.67 211.32L647.23 209.92L647.81 208.52L648.4 207.11L649 205.71L649.59 204.31L650.16 202.9L650.68 201.5L651.1 200.1L651.1 198.56Z" fill="#4DBBD5"/>
<path d="M663.9 193.48L663.9 193.7L664.29 194.96L664.79 196.21L665.33 197.47L665.89 198.72L666.46 199.98L667.02 201.23L667.58 202.49L668.1 203.74L668.59 205L669.04 206.25L669.44 207.51L669.77 208.76L670.04 210.02L670.24 211.27L670.04 212.97L669.77 214.67L669.44 216.36L669.04 218.06L668.59 219.76L668.1 221.46L667.58 223.15L667.02 224.85L666.46 226.55L665.89 228.25L665.33 229.94L664.79 231.64L664.29 233.34L663.9 235.04L663.9 235.83L663.9 235.04L663.51 233.34L663.01 231.64L662.47 229.94L661.91 228.25L661.34 226.55L660.78 224.85L660.22 223.15L659.7 221.46L659.21 219.76L658.76 218.06L658.36 216.36L658.03 214.67L657.76 212.97L657.56 211.27L657.76 210.02L658.03 208.76L658.36 207.51L658.76 206.25L659.21 205L659.7 203.74L660.22 202.49L660.78 201.23L661.34 199.98L661.91 198.72L662.47 197.47L663.01 196.21L663.51 194.96L663.9 193.7L663.9 193.48Z" fill="#E64B35"/>
<path d="M681.1 313.74L681.4 317.01L681.78 320.27L682.18 323.54L682.61 326.81L683.04 330.07L683.47 333.34L683.89 336.61L684.29 339.87L684.66 343.14L685 346.4L685.3 349.67L685.56 352.94L685.76 356.2L685.91 359.47L685.7 361.68L685.42 363.9L685.06 366.11L684.65 368.33L684.18 370.54L683.66 372.76L683.1 374.97L682.52 377.18L681.93 379.4L681.33 381.61L680.74 383.83L680.17 386.04L679.65 388.26L679.23 390.47L679.23 394.19L679.23 390.47L678.81 388.26L678.29 386.04L677.72 383.83L677.13 381.61L676.53 379.4L675.94 377.18L675.36 374.97L674.8 372.76L674.28 370.54L673.81 368.33L673.4 366.11L673.04 363.9L672.76 361.68L672.55 359.47L672.7 356.2L672.9 352.94L673.16 349.67L673.46 346.4L673.8 343.14L674.17 339.87L674.57 336.61L674.99 333.34L675.42 330.07L675.85 326.81L676.28 323.54L676.68 320.27L677.06 317.01L677.36 313.74Z" fill="#4DBBD5"/>
<path d="M693.9 311.2L694.2 315.01L694.58 318.82L694.98 322.63L695.41 326.44L695.84 330.25L696.27 334.06L696.69 337.88L697.09 341.69L697.46 345.5L697.8 349.31L698.1 353.12L698.36 356.93L698.56 360.74L698.71 364.55L698.5 366.76L698.22 368.98L697.86 371.19L697.45 373.41L696.98 375.62L696.46 377.84L695.9 380.05L695.32 382.26L694.73 384.48L694.13 386.69L693.54 388.91L692.97 391.12L692.45 393.34L692.03 395.55L692.03 409.44L692.03 395.55L691.61 393.34L691.09 391.12L690.52 388.91L689.93 386.69L689.33 384.48L688.74 382.26L688.16 380.05L687.6 377.84L687.08 375.62L686.61 373.41L686.2 371.19L685.84 368.98L685.56 366.76L685.35 364.55L685.5 360.74L685.7 356.93L685.96 353.12L686.26 349.31L686.6 345.5L686.97 341.69L687.37 337.88L687.79 334.06L688.22 330.25L688.65 326.44L689.08 322.63L689.48 318.82L689.86 315.01L690.16 311.2Z" fill="#E64B35"/>
<path d="M707.36 103.71L707.36 105.91L707.78 107.39L708.3 108.87L708.87 110.34L709.46 111.82L710.06 113.29L710.65 114.77L711.23 116.25L711.79 117.72L712.31 119.2L712.78 120.68L713.19 122.15L713.55 123.63L713.83 125.1L714.04 126.58L713.89 127.19L713.69 127.79L713.43 128.4L713.13 129L712.79 129.6L712.42 130.21L712.02 130.81L711.6 131.42L711.17 132.03L710.74 132.63L710.31 133.24L709.91 133.84L709.53 134.45L709.23 135.05L705.49 135.05L705.19 134.45L704.81 133.84L704.41 133.24L703.98 132.63L703.55 132.03L703.12 131.42L702.7 130.81L702.3 130.21L701.93 129.6L701.59 129L701.29 128.4L701.03 127.79L700.83 127.19L700.68 126.58L700.89 125.1L701.17 123.63L701.53 122.15L701.94 120.68L702.41 119.2L702.93 117.72L703.49 116.25L704.07 114.77L704.66 113.29L705.26 111.82L705.85 110.34L706.42 108.87L706.94 107.39L707.36 105.91L707.36 103.71Z" fill="#4DBBD5"/>
<path d="M720.16 103.71L720.16 103.71L720.58 105.1L721.1 106.49L721.67 107.88L722.26 109.28L722.86 110.67L723.45 112.06L724.03 113.45L724.59 114.84L725.11 116.23L725.58 117.62L725.99 119.02L726.35 120.41L726.63 121.8L726.84 123.19L726.69 123.98L726.49 124.76L726.23 125.55L725.93 126.34L725.59 127.12L725.22 127.91L724.82 128.69L724.4 129.48L723.97 130.27L723.54 131.05L723.11 131.84L722.71 132.63L722.33 133.41L722.03 134.2L718.29 134.2L717.99 133.41L717.61 132.63L717.21 131.84L716.78 131.05L716.35 130.27L715.92 129.48L715.5 128.69L715.1 127.91L714.73 127.12L714.39 126.34L714.09 125.55L713.83 124.76L713.63 123.98L713.48 123.19L713.69 121.8L713.97 120.41L714.33 119.02L714.74 117.62L715.21 116.23L715.73 114.84L716.29 113.45L716.87 112.06L717.46 110.67L718.06 109.28L718.65 107.88L719.22 106.49L719.74 105.1L720.16 103.71L720.16 103.71Z" fill="#E64B35"/>
<path d="M737.45 175.7L737.77 176.97L738.16 178.24L738.59 179.51L739.04 180.78L739.49 182.05L739.94 183.32L740.38 184.59L740.8 185.86L741.19 187.13L741.55 188.4L741.86 189.67L742.13 190.94L742.34 192.21L742.5 193.48L742.28 195.84L741.98 198.2L741.61 200.56L741.18 202.93L740.68 205.29L740.14 207.65L739.55 210.01L738.94 212.37L738.32 214.73L737.69 217.1L737.07 219.46L736.47 221.82L735.93 224.18L735.49 226.54L735.49 245.99L735.49 226.54L735.05 224.18L734.51 221.82L733.91 219.46L733.29 217.1L732.66 214.73L732.04 212.37L731.43 210.01L730.84 207.65L730.3 205.29L729.8 202.93L729.37 200.56L729 198.2L728.7 195.84L728.48 193.48L728.64 192.21L728.85 190.94L729.12 189.67L729.43 188.4L729.79 187.13L730.18 185.86L730.6 184.59L731.04 183.32L731.49 182.05L731.94 180.78L732.39 179.51L732.82 178.24L733.21 176.97L733.53 175.7Z" fill="#4DBBD5"/>
<path d="M748.29 164.69L748.29 176.39L748.71 177.79L749.23 179.19L749.8 180.6L750.39 182L750.99 183.4L751.58 184.8L752.16 186.21L752.72 187.61L753.24 189.01L753.71 190.41L754.12 191.81L754.48 193.22L754.76 194.62L754.97 196.02L754.76 197.57L754.48 199.12L754.12 200.67L753.71 202.22L753.24 203.77L752.72 205.32L752.16 206.87L751.58 208.42L750.99 209.97L750.39 211.52L749.8 213.07L749.23 214.62L748.71 216.17L748.29 217.72L748.29 224.82L748.29 217.72L747.87 216.17L747.35 214.62L746.78 213.07L746.19 211.52L745.59 209.97L745 208.42L744.42 206.87L743.86 205.32L743.34 203.77L742.87 202.22L742.46 200.67L742.1 199.12L741.82 197.57L741.61 196.02L741.82 194.62L742.1 193.22L742.46 191.81L742.87 190.41L743.34 189.01L743.86 187.61L744.42 186.21L745 184.8L745.59 183.4L746.19 182L746.78 180.6L747.35 179.19L747.87 177.79L748.29 176.39L748.29 164.69Z" fill="#E64B35"/>
<path d="M765.49 153.17L765.79 154.05L766.17 154.94L766.57 155.82L767 156.7L767.43 157.59L767.86 158.47L768.28 159.35L768.68 160.24L769.05 161.12L769.39 162.01L769.69 162.89L769.95 163.77L770.15 164.66L770.3 165.54L770.09 166.5L769.81 167.46L769.45 168.42L769.04 169.37L768.57 170.33L768.05 171.29L767.49 172.25L766.91 173.21L766.32 174.17L765.72 175.13L765.13 176.08L764.56 177.04L764.04 178L763.62 178.96L763.62 182.47L763.62 178.96L763.2 178L762.68 177.04L762.11 176.08L761.52 175.13L760.92 174.17L760.33 173.21L759.75 172.25L759.19 171.29L758.67 170.33L758.2 169.37L757.79 168.42L757.43 167.46L757.15 166.5L756.94 165.54L757.09 164.66L757.29 163.77L757.55 162.89L757.85 162.01L758.19 161.12L758.56 160.24L758.96 159.35L759.38 158.47L759.81 157.59L760.24 156.7L760.67 155.82L761.07 154.94L761.45 154.05L761.75 153.17Z" fill="#4DBBD5"/>
<path d="M778.29 153.68L778.59 154.47L778.97 155.25L779.37 156.04L779.8 156.83L780.23 157.61L780.66 158.4L781.08 159.19L781.48 159.97L781.85 160.76L782.19 161.54L782.49 162.33L782.75 163.12L782.95 163.9L783.1 164.69L782.89 166.02L782.61 167.35L782.25 168.67L781.84 170L781.37 171.33L780.85 172.66L780.29 173.99L779.71 175.31L779.12 176.64L778.52 177.97L777.93 179.3L777.36 180.63L776.84 181.95L776.42 183.28L776.42 191.45L776.42 183.28L776 181.95L775.48 180.63L774.91 179.3L774.32 177.97L773.72 176.64L773.13 175.31L772.55 173.99L771.99 172.66L771.47 171.33L771 170L770.59 168.67L770.23 167.35L769.95 166.02L769.74 164.69L769.89 163.9L770.09 163.12L770.35 162.33L770.65 161.54L770.99 160.76L771.36 159.97L771.76 159.19L772.18 158.4L772.61 157.61L773.04 156.83L773.47 156.04L773.87 155.25L774.25 154.47L774.55 153.68Z" fill="#E64B35"/>
<path d="M791.75 185.86L791.75 187.96L792.14 188.81L792.64 189.65L793.18 190.49L793.74 191.33L794.31 192.17L794.87 193.02L795.43 193.86L795.95 194.7L796.44 195.54L796.89 196.38L797.29 197.22L797.62 198.07L797.89 198.91L798.09 199.75L797.89 200.38L797.62 201.02L797.29 201.65L796.89 202.29L796.44 202.92L795.95 203.56L795.43 204.19L794.87 204.83L794.31 205.46L793.74 206.09L793.18 206.73L792.64 207.36L792.14 208L791.75 208.63L791.75 211.78L791.75 208.63L791.36 208L790.86 207.36L790.32 206.73L789.76 206.09L789.19 205.46L788.63 204.83L788.07 204.19L787.55 203.56L787.06 202.92L786.61 202.29L786.21 201.65L785.88 201.02L785.61 200.38L785.41 199.75L785.61 198.91L785.88 198.07L786.21 197.22L786.61 196.38L787.06 195.54L787.55 194.7L788.07 193.86L788.63 193.02L789.19 192.17L789.76 191.33L790.32 190.49L790.86 189.65L791.36 188.81L791.75 187.96L791.75 185.86Z" fill="#4DBBD5"/>
<path d="M804.55 181.29L804.55 182.77L804.97 183.66L805.49 184.55L806.06 185.43L806.65 186.32L807.25 187.2L807.84 188.09L808.42 188.98L808.98 189.86L809.5 190.75L809.97 191.64L810.38 192.52L810.74 193.41L811.02 194.29L811.23 195.18L811.02 196.14L810.74 197.1L810.38 198.06L809.97 199.02L809.5 199.98L808.98 200.94L808.42 201.9L807.84 202.86L807.25 203.81L806.65 204.77L806.06 205.73L805.49 206.69L804.97 207.65L804.55 208.61L804.55 212.45L804.55 208.61L804.13 207.65L803.61 206.69L803.04 205.73L802.45 204.77L801.85 203.81L801.26 202.86L800.68 201.9L800.12 200.94L799.6 199.98L799.13 199.02L798.72 198.06L798.36 197.1L798.08 196.14L797.87 195.18L798.08 194.29L798.36 193.41L798.72 192.52L799.13 191.64L799.6 190.75L800.12 189.86L800.68 188.98L801.26 188.09L801.85 187.2L802.45 186.32L803.04 185.43L803.61 184.55L804.13 183.66L804.55 182.77L804.55 181.29Z" fill="#E64B35"/>
<path d="M819.88 210.42L819.88 212.52L820.3 213.7L820.82 214.88L821.39 216.06L821.98 217.24L822.58 218.42L823.17 219.6L823.75 220.78L824.31 221.97L824.83 223.15L825.3 224.33L825.71 225.51L826.07 226.69L826.35 227.87L826.56 229.05L826.35 230.53L826.07 232L825.71 233.48L825.3 234.95L824.83 236.43L824.31 237.91L823.75 239.38L823.17 240.86L822.58 242.34L821.98 243.81L821.39 245.29L820.82 246.76L820.3 248.24L819.88 249.72L819.88 252.76L819.88 249.72L819.46 248.24L818.94 246.76L818.37 245.29L817.78 243.81L817.18 242.34L816.59 240.86L816.01 239.38L815.45 237.91L814.93 236.43L814.46 234.95L814.05 233.48L813.69 232L813.41 230.53L813.2 229.05L813.41 227.87L813.69 226.69L814.05 225.51L814.46 224.33L814.93 223.15L815.45 221.97L816.01 220.78L816.59 219.6L817.18 218.42L817.78 217.24L818.37 216.06L818.94 214.88L819.46 213.7L819.88 212.52L819.88 210.42Z" fill="#4DBBD5"/>
<path d="M832.68 211.27L832.68 214.59L833.1 215.63L833.62 216.66L834.19 217.69L834.78 218.72L835.38 219.76L835.97 220.79L836.55 221.82L837.11 222.85L837.63 223.89L838.1 224.92L838.51 225.95L838.87 226.98L839.15 228.02L839.36 229.05L839.15 230.08L838.87 231.12L838.51 232.15L838.1 233.18L837.63 234.22L837.11 235.25L836.55 236.28L835.97 237.32L835.38 238.35L834.78 239.39L834.19 240.42L833.62 241.45L833.1 242.49L832.68 243.52L832.68 260.39L832.68 243.52L832.26 242.49L831.74 241.45L831.17 240.42L830.58 239.39L829.98 238.35L829.39 237.32L828.81 236.28L828.25 235.25L827.73 234.22L827.26 233.18L826.85 232.15L826.49 231.12L826.21 230.08L826 229.05L826.21 228.02L826.49 226.98L826.85 225.95L827.26 224.92L827.73 223.89L828.25 222.85L828.81 221.82L829.39 220.79L829.98 219.76L830.58 218.72L831.17 217.69L831.74 216.66L832.26 215.63L832.68 214.59L832.68 211.27Z" fill="#E64B35"/>
<path d="M849.88 186.37L850.18 187.36L850.56 188.35L850.96 189.35L851.39 190.34L851.82 191.33L852.25 192.32L852.67 193.31L853.07 194.31L853.44 195.3L853.78 196.29L854.08 197.28L854.34 198.28L854.54 199.27L854.69 200.26L854.48 202.03L854.2 203.8L853.84 205.57L853.43 207.34L852.96 209.11L852.44 210.88L851.88 212.66L851.3 214.43L850.71 216.2L850.11 217.97L849.52 219.74L848.95 221.51L848.43 223.28L848.01 225.05L848.01 237.52L848.01 225.05L847.59 223.28L847.07 221.51L846.5 219.74L845.91 217.97L845.31 216.2L844.72 214.43L844.14 212.66L843.58 210.88L843.06 209.11L842.59 207.34L842.18 205.57L841.82 203.8L841.54 202.03L841.33 200.26L841.48 199.27L841.68 198.28L841.94 197.28L842.24 196.29L842.58 195.3L842.95 194.31L843.35 193.31L843.77 192.32L844.2 191.33L844.63 190.34L845.06 189.35L845.46 188.35L845.84 187.36L846.14 186.37Z" fill="#4DBBD5"/>
<path d="M862.68 187.55L862.98 188.4L863.36 189.24L863.76 190.09L864.19 190.94L864.62 191.79L865.05 192.63L865.47 193.48L865.87 194.33L866.24 195.17L866.58 196.02L866.88 196.87L867.14 197.72L867.34 198.56L867.49 199.41L867.28 201.85L867 204.28L866.64 206.72L866.23 209.15L865.76 211.59L865.24 214.02L864.68 216.46L864.1 218.9L863.51 221.33L862.91 223.77L862.32 226.2L861.75 228.64L861.23 231.07L860.81 233.51L860.81 237.52L860.81 233.51L860.39 231.07L859.87 228.64L859.3 226.2L858.71 223.77L858.11 221.33L857.52 218.9L856.94 216.46L856.38 214.02L855.86 211.59L855.39 209.15L854.98 206.72L854.62 204.28L854.34 201.85L854.13 199.41L854.28 198.56L854.48 197.72L854.74 196.87L855.04 196.02L855.38 195.17L855.75 194.33L856.15 193.48L856.57 192.63L857 191.79L857.43 190.94L857.86 190.09L858.26 189.24L858.64 188.4L858.94 187.55Z" fill="#E64B35"/>
</g>
<rect x="79.3" y="85.7" width="791.6" height="338.1" fill="none" stroke="#333333" stroke-width="1.7"/>
<path d="M75 94.1H79.3M75 171.4H79.3M75 248.6H79.3M75 325.9H79.3M75 403.2H79.3M94.9 423.8V428.1M123.03 423.8V428.1M151.16 423.8V428.1M179.29 423.8V428.1M207.42 423.8V428.1M235.55 423.8V428.1M263.68 423.8V428.1M291.81 423.8V428.1M319.94 423.8V428.1M348.07 423.8V428.1M376.2 423.8V428.1M404.33 423.8V428.1M432.46 423.8V428.1M460.59 423.8V428.1M488.72 423.8V428.1M516.85 423.8V428.1M544.98 423.8V428.1M573.11 423.8V428.1M601.24 423.8V428.1M629.37 423.8V428.1M657.5 423.8V428.1M685.63 423.8V428.1M713.76 423.8V428.1M741.89 423.8V428.1M770.02 423.8V428.1M798.15 423.8V428.1M826.28 423.8V428.1M854.41 423.8V428.1" stroke="#333333" stroke-width="1.6" fill="none"/>
<g font-family="'Liberation Sans',sans-serif" font-size="16.3" fill="#222" text-anchor="end">
<text x="72" y="97.6">0.50</text>
<text x="72" y="174.9">0.25</text>
<text x="72" y="252.1">0.00</text>
<text x="72" y="329.4">−0.25</text>
<text x="72" y="406.7">−0.50</text>
</g>
<g font-family="'Liberation Serif',serif" font-size="19.0" fill="#111" text-anchor="end">
<text transform="translate(89.5 431.7) rotate(-45)" dy="0.68em">Activated B cell</text>
<text transform="translate(117.43 431.7) rotate(-45)" dy="0.68em">Activated CD4 T cell</text>
<text transform="translate(146.56 431.7) rotate(-45)" dy="0.68em">Activated CD8 T cell</text>
<text transform="translate(170.99 431.7) rotate(-45)" dy="0.68em">Activated dendritic cell</text>
<text transform="translate(197.72 431.7) rotate(-45)" dy="0.68em">CD56bright natural killer cell</text>
<text transform="translate(226.85 431.7) rotate(-45)" dy="0.68em">CD56dim natural killer cell</text>
<text transform="translate(258.98 431.7) rotate(-45)" dy="0.68em">Central memory CD4 T cell</text>
<text transform="translate(288.11 431.7) rotate(-45)" dy="0.68em">Central memory CD8 T cell</text>
<text transform="translate(314.54 431.7) rotate(-45)" dy="0.68em">Effector memeory CD4 T cell</text>
<text transform="translate(344.47 431.7) rotate(-45)" dy="0.68em">Effector memeory CD8 T cell</text>
<text transform="translate(371.2 431.7) rotate(-45)" dy="0.68em">Eosinophil</text>
<text transform="translate(400.63 431.7) rotate(-45)" dy="0.68em">Gamma delta T cell</text>
<text transform="translate(426.56 431.7) rotate(-45)" dy="0.68em">Immature&#160; B cell</text>
<text transform="translate(458.69 431.7) rotate(-45)" dy="0.68em">Immature dendritic cell</text>
<text transform="translate(486.12 431.7) rotate(-45)" dy="0.68em">Macrophage</text>
<text transform="translate(514.95 431.7) rotate(-45)" dy="0.68em">Mast cell</text>
<text transform="translate(542.88 431.7) rotate(-45)" dy="0.68em">MDSC</text>
<text transform="translate(572.31 431.7) rotate(-45)" dy="0.68em">Memory B cell</text>
<text transform="translate(597.24 431.7) rotate(-45)" dy="0.68em">Monocyte</text>
<text transform="translate(625.37 431.7) rotate(-45)" dy="0.68em">Natural killer cell</text>
<text transform="translate(651.8 431.7) rotate(-45)" dy="0.68em">Natural killer T cell</text>
<text transform="translate(679.73 431.7) rotate(-45)" dy="0.68em">Neutrophil</text>
<text transform="translate(709.76 431.7) rotate(-45)" dy="0.68em">Plasmacytoid dendritic cell</text>
<text transform="translate(734.99 431.7) rotate(-45)" dy="0.68em">Regulatory T cell</text>
<text transform="translate(765.32 431.7) rotate(-45)" dy="0.68em">T follicular helper cell</text>
<text transform="translate(793.15 431.7) rotate(-45)" dy="0.68em">Type 1 T helper cell</text>
<text transform="translate(826.98 431.7) rotate(-45)" dy="0.68em">Type 17 T helper cell</text>
<text transform="translate(854.01 431.7) rotate(-45)" dy="0.68em">Type 2 T helper cell</text>
</g>
<text transform="translate(27.3 196) rotate(-90)" font-family="'Liberation Serif',serif" font-size="22.5" fill="#111" text-anchor="middle">Immune Infiltration</text>
<text x="888.6" y="237.3" font-family="'Liberation Serif',serif" font-size="22.5" fill="#111">Group</text>
<rect x="889.2" y="245.9" width="16.6" height="16.2" fill="#4DBBD5" stroke="#333333" stroke-width="2.4"/>
<rect x="889.2" y="264.4" width="16.6" height="16.4" fill="#E64B35" stroke="#333333" stroke-width="2.4"/>
<g font-family="'Liberation Serif',serif" font-size="16.3" fill="#111"><text x="912.9" y="258">NC</text><text x="912.9" y="275.6">AD</text></g>
<rect x="178.1" y="675.2" width="707.6" height="304.6" fill="#fff"/>
<path d="M178.1 719.6H885.7M178.1 802.95H885.7M178.1 886.25H885.7M178.1 969.55H885.7" stroke="#efefef" stroke-width="1.1" fill="none"/>
<path d="M178.1 677.9H885.7M178.1 761.3H885.7M178.1 844.6H885.7M178.1 927.9H885.7M207.3 675.2V979.8M257.18 675.2V979.8M307.06 675.2V979.8M356.94 675.2V979.8M406.82 675.2V979.8M456.7 675.2V979.8M506.58 675.2V979.8M556.46 675.2V979.8M606.34 675.2V979.8M656.22 675.2V979.8M706.1 675.2V979.8M755.98 675.2V979.8M805.86 675.2V979.8M855.74 675.2V979.8" stroke="#e6e6e6" stroke-width="2" fill="none"/>
<g font-family="'Liberation Sans',sans-serif" font-size="10" fill="#222" text-anchor="middle">
<text x="207.3" y="687.5">**</text>
<text x="257.18" y="687.5">***</text>
<text x="307.06" y="687.5">**</text>
<text x="356.94" y="687.5">***</text>
<text x="406.82" y="687.5">ns</text>
<text x="456.7" y="687.5">ns</text>
<text x="506.58" y="687.5">***</text>
<text x="556.46" y="687.5">**</text>
<text x="606.34" y="687.5">ns</text>
<text x="656.22" y="687.5">**</text>
<text x="706.1" y="687.5">ns</text>
<text x="755.98" y="687.5">ns</text>
<text x="805.86" y="687.5">***</text>
<text x="855.74" y="687.5">ns</text>
</g>
<g stroke="#333333" stroke-width="2.5" fill="none">
<path d="M197.9 905.3V915.47M197.9 935.79V943.61"/>
<rect x="189.65" y="916.67" width="16.5" height="17.92" fill="#4DBBD5"/>
<path d="M189.65 927.19H206.15" stroke-width="4.8"/>
<path d="M216.7 915.47V923.28M216.7 941.26V952.21"/>
<rect x="208.45" y="924.48" width="16.5" height="15.58" fill="#E64B35"/>
<path d="M208.45 932.66H224.95" stroke-width="4.8"/>
<path d="M247.78 784.13V800.55M247.78 815.4V829.47"/>
<rect x="239.53" y="801.75" width="16.5" height="12.45" fill="#4DBBD5"/>
<path d="M239.53 808.37H256.03" stroke-width="4.8"/>
<path d="M266.58 780.23V792.42M266.58 807.12V820.09"/>
<rect x="258.33" y="793.62" width="16.5" height="12.3" fill="#E64B35"/>
<path d="M258.33 801.02H274.83" stroke-width="4.8"/>
<path d="M297.66 787.26V799.46M297.66 812.59V822.91"/>
<rect x="289.41" y="800.66" width="16.5" height="10.73" fill="#4DBBD5"/>
<path d="M289.41 806.34H305.91" stroke-width="4.8"/>
<path d="M316.46 773.19V786.48M316.46 809.15V834.17"/>
<rect x="308.21" y="787.68" width="16.5" height="20.27" fill="#E64B35"/>
<path d="M308.21 797.42H324.71" stroke-width="4.8"/>
<path d="M347.54 740.67V743.48M347.54 754.9V764.59"/>
<rect x="339.29" y="744.68" width="16.5" height="9.02" fill="#4DBBD5"/>
<path d="M339.29 749.74H355.79" stroke-width="4.8"/>
<path d="M366.34 747.08V753.65M366.34 769.28V787.57"/>
<rect x="358.09" y="754.85" width="16.5" height="13.23" fill="#E64B35"/>
<path d="M358.09 761.15H374.59" stroke-width="4.8"/>
<path d="M397.42 756.46V773.19M397.42 786.48V794.3"/>
<rect x="389.17" y="774.39" width="16.5" height="10.89" fill="#4DBBD5"/>
<path d="M389.17 779.13H405.67" stroke-width="4.8"/>
<path d="M416.22 743.48V765.68M416.22 784.6V806.8"/>
<rect x="407.97" y="766.88" width="16.5" height="16.52" fill="#E64B35"/>
<path d="M407.97 773.5H424.47" stroke-width="4.8"/>
<path d="M447.3 803.36V817.75M447.3 830.26V838.07"/>
<rect x="439.05" y="818.95" width="16.5" height="10.11" fill="#4DBBD5"/>
<path d="M439.05 822.44H455.55" stroke-width="4.8"/>
<path d="M466.1 803.36V816.65M466.1 829.16V843.23"/>
<rect x="457.85" y="817.85" width="16.5" height="10.11" fill="#E64B35"/>
<path d="M457.85 822.44H474.35" stroke-width="4.8"/>
<path d="M497.18 772.41V781.01M497.18 791.17V796.64"/>
<rect x="488.93" y="782.21" width="16.5" height="7.76" fill="#4DBBD5"/>
<path d="M488.93 786.48H505.43" stroke-width="4.8"/>
<path d="M515.98 773.5V785.38M515.98 804.15V825.88"/>
<rect x="507.73" y="786.58" width="16.5" height="16.37" fill="#E64B35"/>
<path d="M507.73 794.3H524.23" stroke-width="4.8"/>
<path d="M547.06 731.29V738.79M547.06 748.96V755.99"/>
<rect x="538.81" y="739.99" width="16.5" height="7.77" fill="#4DBBD5"/>
<path d="M538.81 744.73H555.31" stroke-width="4.8"/>
<path d="M565.86 737.23V742.39M565.86 754.43V763.81"/>
<rect x="557.61" y="743.59" width="16.5" height="9.64" fill="#E64B35"/>
<path d="M557.61 748.17H574.11" stroke-width="4.8"/>
<path d="M596.94 791.17V811.81M596.94 828.38V848.24"/>
<rect x="588.69" y="813.01" width="16.5" height="14.17" fill="#4DBBD5"/>
<path d="M588.69 820.09H605.19" stroke-width="4.8"/>
<path d="M615.74 791.17V811.81M615.74 838.07V865.75"/>
<rect x="607.49" y="813.01" width="16.5" height="23.86" fill="#E64B35"/>
<path d="M607.49 826.35H623.99" stroke-width="4.8"/>
<path d="M646.82 722.1V749M646.82 778.4V802.6"/>
<rect x="638.57" y="750.2" width="16.5" height="27" fill="#4DBBD5"/>
<path d="M638.57 765H655.07" stroke-width="4.8"/>
<path d="M665.62 711.5V738.9M665.62 766.2V795.2"/>
<rect x="657.37" y="740.1" width="16.5" height="24.9" fill="#E64B35"/>
<path d="M657.37 750.6H673.87" stroke-width="4.8"/>
<path d="M696.7 765.68V770.06M696.7 784.92V792.73"/>
<rect x="688.45" y="771.26" width="16.5" height="12.46" fill="#4DBBD5"/>
<path d="M688.45 777.88H704.95" stroke-width="4.8"/>
<path d="M715.5 762.25V770.84M715.5 779.91V786.95"/>
<rect x="707.25" y="772.04" width="16.5" height="6.67" fill="#E64B35"/>
<path d="M707.25 775.53H723.75" stroke-width="4.8"/>
<path d="M746.58 785.7V801.33M746.58 815.4V825.25"/>
<rect x="738.33" y="802.53" width="16.5" height="11.67" fill="#4DBBD5"/>
<path d="M738.33 808.37H754.83" stroke-width="4.8"/>
<path d="M765.38 789.61V798.67M765.38 810.4V820.88"/>
<rect x="757.13" y="799.87" width="16.5" height="9.33" fill="#E64B35"/>
<path d="M757.13 804.93H773.63" stroke-width="4.8"/>
<path d="M796.46 697.05V705.18M796.46 715.03V720.34"/>
<rect x="788.21" y="706.38" width="16.5" height="7.45" fill="#4DBBD5"/>
<path d="M788.21 709.87H804.71" stroke-width="4.8"/>
<path d="M815.26 688.76V695.8M815.26 710.18V720.34"/>
<rect x="807.01" y="697" width="16.5" height="11.98" fill="#E64B35"/>
<path d="M807.01 702.83H823.51" stroke-width="4.8"/>
<path d="M846.34 773.97V781.01M846.34 790.86V796.64"/>
<rect x="838.09" y="782.21" width="16.5" height="7.45" fill="#4DBBD5"/>
<path d="M838.09 786.48H854.59" stroke-width="4.8"/>
<path d="M865.14 772.72V781.79M865.14 792.26V801.02"/>
<rect x="856.89" y="782.99" width="16.5" height="8.07" fill="#E64B35"/>
<path d="M856.89 787.26H873.39" stroke-width="4.8"/>
</g>
<rect x="178.1" y="675.2" width="707.6" height="304.6" fill="none" stroke="#333333" stroke-width="1.7"/>
<path d="M173.8 677.9H178.1M173.8 761.3H178.1M173.8 844.6H178.1M173.8 927.9H178.1M207.3 979.8V984.1M257.18 979.8V984.1M307.06 979.8V984.1M356.94 979.8V984.1M406.82 979.8V984.1M456.7 979.8V984.1M506.58 979.8V984.1M556.46 979.8V984.1M606.34 979.8V984.1M656.22 979.8V984.1M706.1 979.8V984.1M755.98 979.8V984.1M805.86 979.8V984.1M855.74 979.8V984.1" stroke="#333333" stroke-width="1.6" fill="none"/>
<g font-family="'Liberation Sans',sans-serif" font-size="17.2" fill="#222" text-anchor="end">
<text x="170.6" y="683.9">0.50</text>
<text x="170.6" y="767.3">0.25</text>
<text x="170.6" y="850.6">0.00</text>
<text x="170.6" y="933.9">−0.25</text>
</g>
<g font-family="'Liberation Serif',serif" font-size="19.0" fill="#111" text-anchor="end">
<text transform="translate(199.3 984.2) rotate(-45)" dy="0.68em">Activated B cell</text>
<text transform="translate(252.78 984.2) rotate(-45)" dy="0.68em">Activated CD8 T cell</text>
<text transform="translate(310.26 984.2) rotate(-45)" dy="0.68em">CD56dim natural killer cell</text>
<text transform="translate(358.94 984.2) rotate(-45)" dy="0.68em">Effector memeory CD4 T cell</text>
<text transform="translate(406.82 984.2) rotate(-45)" dy="0.68em">Effector memeory CD8 T cell</text>
<text transform="translate(455.9 984.2) rotate(-45)" dy="0.68em">Eosinophil</text>
<text transform="translate(509.48 984.2) rotate(-45)" dy="0.68em">Gamma delta T cell</text>
<text transform="translate(561.76 984.2) rotate(-45)" dy="0.68em">Immature dendritic cell</text>
<text transform="translate(610.54 984.2) rotate(-45)" dy="0.68em">Mast cell</text>
<text transform="translate(654.32 984.2) rotate(-45)" dy="0.68em">MDSC</text>
<text transform="translate(704 984.2) rotate(-45)" dy="0.68em">Natural killer cell</text>
<text transform="translate(754.68 984.2) rotate(-45)" dy="0.68em">Natural killer T cell</text>
<text transform="translate(809.36 984.2) rotate(-45)" dy="0.68em">Plasmacytoid dendritic cell</text>
<text transform="translate(857.44 984.2) rotate(-45)" dy="0.68em">Type 1 T helper cell</text>
</g>
<text transform="translate(121.6 777.5) rotate(-90)" font-family="'Liberation Serif',serif" font-size="22.7" fill="#111" text-anchor="middle">Immune Infiltration</text>
<text x="901.9" y="811.9" font-family="'Liberation Serif',serif" font-size="22.4" fill="#111">MAP4</text>
<g stroke="#333333" stroke-width="2.2">
<path d="M909.6 820.3V833.6" fill="none"/>
<rect x="903.3" y="823" width="12.6" height="7.9" fill="#4DBBD5"/>
<path d="M903.3 826.95H915.9" stroke-width="3.4" fill="none"/>
</g>
<text x="922.8" y="829.85" font-family="'Liberation Serif',serif" font-size="16.9" fill="#111">Low</text>
<g stroke="#333333" stroke-width="2.2">
<path d="M909.6 836.35V849.65" fill="none"/>
<rect x="903.3" y="839.05" width="12.6" height="7.9" fill="#E64B35"/>
<path d="M903.3 843H915.9" stroke-width="3.4" fill="none"/>
</g>
<text x="922.8" y="846.15" font-family="'Liberation Serif',serif" font-size="16.9" fill="#111">High</text>
<rect x="187" y="1195.6" width="707" height="304.2" fill="#fff"/>
<path d="M187 1239.8H894M187 1323.05H894M187 1406.6H894M187 1490.2H894" stroke="#efefef" stroke-width="1.1" fill="none"/>
<path d="M187 1198.3H894M187 1281.3H894M187 1364.8H894M187 1448.4H894M215.7 1195.6V1499.8M265.58 1195.6V1499.8M315.46 1195.6V1499.8M365.34 1195.6V1499.8M415.22 1195.6V1499.8M465.1 1195.6V1499.8M514.98 1195.6V1499.8M564.86 1195.6V1499.8M614.74 1195.6V1499.8M664.62 1195.6V1499.8M714.5 1195.6V1499.8M764.38 1195.6V1499.8M814.26 1195.6V1499.8M864.14 1195.6V1499.8" stroke="#e6e6e6" stroke-width="2" fill="none"/>
<g font-family="'Liberation Sans',sans-serif" font-size="10" fill="#222" text-anchor="middle">
<text x="215.7" y="1208.6">ns</text>
<text x="265.58" y="1208.6">*</text>
<text x="315.46" y="1208.6">***</text>
<text x="365.34" y="1208.6">***</text>
<text x="415.22" y="1208.6">ns</text>
<text x="465.1" y="1208.6">*</text>
<text x="514.98" y="1208.6">**</text>
<text x="564.86" y="1208.6">**</text>
<text x="614.74" y="1208.6">**</text>
<text x="664.62" y="1208.6">ns</text>
<text x="714.5" y="1208.6">ns</text>
<text x="764.38" y="1208.6">ns</text>
<text x="814.26" y="1208.6">*</text>
<text x="864.14" y="1208.6">ns</text>
</g>
<g stroke="#333333" stroke-width="2.5" fill="none">
<path d="M206.3 1426.09V1438.12M206.3 1456.57V1472.68"/>
<rect x="198.05" y="1439.32" width="16.5" height="16.05" fill="#4DBBD5"/>
<path d="M198.05 1448.76H214.55" stroke-width="4.8"/>
<path d="M225.1 1425.77V1443.28M225.1 1461.58V1471.89"/>
<rect x="216.85" y="1444.48" width="16.5" height="15.9" fill="#E64B35"/>
<path d="M216.85 1452.2H233.35" stroke-width="4.8"/>
<path d="M256.18 1300.69V1317.89M256.18 1334.62V1349.47"/>
<rect x="247.93" y="1319.09" width="16.5" height="14.33" fill="#4DBBD5"/>
<path d="M247.93 1327.27H264.43" stroke-width="4.8"/>
<path d="M274.98 1308.51V1316.33M274.98 1327.9V1340.09"/>
<rect x="266.73" y="1317.53" width="16.5" height="9.17" fill="#E64B35"/>
<path d="M266.73 1322.11H283.23" stroke-width="4.8"/>
<path d="M306.06 1298.35V1318.99M306.06 1335.09V1354.63"/>
<rect x="297.81" y="1320.19" width="16.5" height="13.7" fill="#4DBBD5"/>
<path d="M297.81 1327.59H314.31" stroke-width="4.8"/>
<path d="M324.86 1293.5V1308.04M324.86 1328.68V1337.75"/>
<rect x="316.61" y="1309.24" width="16.5" height="18.24" fill="#E64B35"/>
<path d="M316.61 1318.21H333.11" stroke-width="4.8"/>
<path d="M355.94 1261.61V1265.83M355.94 1277.55V1288.5"/>
<rect x="347.69" y="1267.03" width="16.5" height="9.32" fill="#4DBBD5"/>
<path d="M347.69 1271.77H364.19" stroke-width="4.8"/>
<path d="M374.74 1261.14V1270.05M374.74 1289.75V1308.04"/>
<rect x="366.49" y="1271.25" width="16.5" height="17.3" fill="#E64B35"/>
<path d="M366.49 1279.9H382.99" stroke-width="4.8"/>
<path d="M405.82 1264.27V1285.68M405.82 1305.38V1324.46"/>
<rect x="397.57" y="1286.88" width="16.5" height="17.3" fill="#4DBBD5"/>
<path d="M397.57 1297.1H414.07" stroke-width="4.8"/>
<path d="M424.62 1270.52V1288.5M424.62 1305.7V1327.27"/>
<rect x="416.37" y="1289.7" width="16.5" height="14.8" fill="#E64B35"/>
<path d="M416.37 1297.88H432.87" stroke-width="4.8"/>
<path d="M455.7 1324.15V1339.31M455.7 1352.6V1358.54"/>
<rect x="447.45" y="1340.51" width="16.5" height="10.89" fill="#4DBBD5"/>
<path d="M447.45 1345.57H463.95" stroke-width="4.8"/>
<path d="M474.5 1323.36V1335.72M474.5 1347.91V1358.54"/>
<rect x="466.25" y="1336.92" width="16.5" height="9.79" fill="#E64B35"/>
<path d="M466.25 1341.66H482.75" stroke-width="4.8"/>
<path d="M505.58 1293.5V1302.57M505.58 1312.42V1321.02"/>
<rect x="497.33" y="1303.77" width="16.5" height="7.45" fill="#4DBBD5"/>
<path d="M497.33 1307.73H513.83" stroke-width="4.8"/>
<path d="M524.38 1292.72V1305.38M524.38 1323.68V1346.35"/>
<rect x="516.13" y="1306.58" width="16.5" height="15.9" fill="#E64B35"/>
<path d="M516.13 1313.51H532.63" stroke-width="4.8"/>
<path d="M555.46 1256.45V1259.57M555.46 1269.74V1276.3"/>
<rect x="547.21" y="1260.77" width="16.5" height="7.77" fill="#4DBBD5"/>
<path d="M547.21 1265.05H563.71" stroke-width="4.8"/>
<path d="M574.26 1251.29V1262.7M574.26 1274.74V1284.28"/>
<rect x="566.01" y="1263.9" width="16.5" height="9.64" fill="#E64B35"/>
<path d="M566.01 1268.64H582.51" stroke-width="4.8"/>
<path d="M605.34 1314.77V1332.28M605.34 1346.66V1361.2"/>
<rect x="597.09" y="1333.48" width="16.5" height="11.98" fill="#4DBBD5"/>
<path d="M597.09 1339.31H613.59" stroke-width="4.8"/>
<path d="M624.14 1311.17V1334.62M624.14 1359.17V1386.22"/>
<rect x="615.89" y="1335.82" width="16.5" height="22.15" fill="#E64B35"/>
<path d="M615.89 1348.69H632.39" stroke-width="4.8"/>
<path d="M655.22 1241.62V1260.78M655.22 1296.35V1322.25"/>
<rect x="646.97" y="1261.98" width="16.5" height="33.17" fill="#4DBBD5"/>
<path d="M646.97 1280.66H663.47" stroke-width="4.8"/>
<path d="M674.02 1232.32V1264.24M674.02 1292.52V1314.95"/>
<rect x="665.77" y="1265.44" width="16.5" height="25.88" fill="#E64B35"/>
<path d="M665.77 1272.09H682.27" stroke-width="4.8"/>
<path d="M705.1 1279.75V1292.15M705.1 1303.46V1312.58"/>
<rect x="696.85" y="1293.35" width="16.5" height="8.91" fill="#4DBBD5"/>
<path d="M696.85 1297.62H713.35" stroke-width="4.8"/>
<path d="M723.9 1280.3V1289.42M723.9 1300.91V1306.75"/>
<rect x="715.65" y="1290.62" width="16.5" height="9.09" fill="#E64B35"/>
<path d="M715.65 1295.44H732.15" stroke-width="4.8"/>
<path d="M754.98 1309.48V1320.97M754.98 1335.38V1345.42"/>
<rect x="746.73" y="1322.17" width="16.5" height="12.01" fill="#4DBBD5"/>
<path d="M746.73 1327.72H763.23" stroke-width="4.8"/>
<path d="M773.78 1306.2V1319.88M773.78 1333.56V1346.33"/>
<rect x="765.53" y="1321.08" width="16.5" height="11.28" fill="#E64B35"/>
<path d="M765.53 1326.81H782.03" stroke-width="4.8"/>
<path d="M804.86 1215.54V1222.83M804.86 1233.78V1240.53"/>
<rect x="796.61" y="1224.03" width="16.5" height="8.55" fill="#4DBBD5"/>
<path d="M796.61 1228.67H813.11" stroke-width="4.8"/>
<path d="M823.66 1209.52V1219.55M823.66 1231.96V1240.71"/>
<rect x="815.41" y="1220.75" width="16.5" height="10.01" fill="#E64B35"/>
<path d="M815.41 1225.57H831.91" stroke-width="4.8"/>
<path d="M854.74 1293.61V1301.64M854.74 1310.76V1316.41"/>
<rect x="846.49" y="1302.84" width="16.5" height="6.72" fill="#4DBBD5"/>
<path d="M846.49 1306.38H862.99" stroke-width="4.8"/>
<path d="M873.54 1297.62V1304.01M873.54 1313.68V1321.34"/>
<rect x="865.29" y="1305.21" width="16.5" height="7.27" fill="#E64B35"/>
<path d="M865.29 1308.57H881.79" stroke-width="4.8"/>
</g>
<rect x="187" y="1195.6" width="707" height="304.2" fill="none" stroke="#333333" stroke-width="1.7"/>
<path d="M182.7 1198.3H187M182.7 1281.3H187M182.7 1364.8H187M182.7 1448.4H187M215.7 1499.8V1504.1M265.58 1499.8V1504.1M315.46 1499.8V1504.1M365.34 1499.8V1504.1M415.22 1499.8V1504.1M465.1 1499.8V1504.1M514.98 1499.8V1504.1M564.86 1499.8V1504.1M614.74 1499.8V1504.1M664.62 1499.8V1504.1M714.5 1499.8V1504.1M764.38 1499.8V1504.1M814.26 1499.8V1504.1M864.14 1499.8V1504.1" stroke="#333333" stroke-width="1.6" fill="none"/>
<g font-family="'Liberation Sans',sans-serif" font-size="17.2" fill="#222" text-anchor="end">
<text x="178.6" y="1206.8">0.50</text>
<text x="178.6" y="1289.8">0.25</text>
<text x="178.6" y="1373.3">0.00</text>
<text x="178.6" y="1456.9">−0.25</text>
</g>
<g font-family="'Liberation Serif',serif" font-size="19.0" fill="#111" text-anchor="end">
<text transform="translate(217.4 1504.6) rotate(-45)" dy="0.68em">Activated B cell</text>
<text transform="translate(266.58 1504.6) rotate(-45)" dy="0.68em">Activated CD8 T cell</text>
<text transform="translate(314.66 1504.6) rotate(-45)" dy="0.68em">CD56dim natural killer cell</text>
<text transform="translate(363.44 1504.6) rotate(-45)" dy="0.68em">Effector memeory CD4 T cell</text>
<text transform="translate(417.42 1504.6) rotate(-45)" dy="0.68em">Effector memeory CD8 T cell</text>
<text transform="translate(462.4 1504.6) rotate(-45)" dy="0.68em">Eosinophil</text>
<text transform="translate(510.28 1504.6) rotate(-45)" dy="0.68em">Gamma delta T cell</text>
<text transform="translate(563.26 1504.6) rotate(-45)" dy="0.68em">Immature dendritic cell</text>
<text transform="translate(610.44 1504.6) rotate(-45)" dy="0.68em">Mast cell</text>
<text transform="translate(665.62 1504.6) rotate(-45)" dy="0.68em">MDSC</text>
<text transform="translate(714.4 1504.6) rotate(-45)" dy="0.68em">Natural killer cell</text>
<text transform="translate(762.38 1504.6) rotate(-45)" dy="0.68em">Natural killer T cell</text>
<text transform="translate(811.96 1504.6) rotate(-45)" dy="0.68em">Plasmacytoid dendritic cell</text>
<text transform="translate(869.34 1504.6) rotate(-45)" dy="0.68em">Type 1 T helper cell</text>
</g>
<text transform="translate(136.6 1317.5) rotate(-90)" font-family="'Liberation Serif',serif" font-size="22.7" fill="#111" text-anchor="middle">Immune Infiltration</text>
<text x="909.8" y="1332.6" font-family="'Liberation Serif',serif" font-size="22.4" fill="#111">GPT</text>
<g stroke="#333333" stroke-width="2.2">
<path d="M918.4 1340.7V1354" fill="none"/>
<rect x="912.1" y="1343.4" width="12.6" height="7.9" fill="#4DBBD5"/>
<path d="M912.1 1347.35H924.7" stroke-width="3.4" fill="none"/>
</g>
<text x="931.7" y="1350.25" font-family="'Liberation Serif',serif" font-size="16.9" fill="#111">Low</text>
<g stroke="#333333" stroke-width="2.2">
<path d="M918.4 1356.75V1370.05" fill="none"/>
<rect x="912.1" y="1359.45" width="12.6" height="7.9" fill="#E64B35"/>
<path d="M912.1 1363.4H924.7" stroke-width="3.4" fill="none"/>
</g>
<text x="931.7" y="1366.55" font-family="'Liberation Serif',serif" font-size="16.9" fill="#111">High</text>
<rect x="187.8" y="1714.6" width="707.3" height="304.3" fill="#fff"/>
<path d="M187.8 1758.85H895.1M187.8 1842.15H895.1M187.8 1925.55H895.1M187.8 2008.85H895.1" stroke="#efefef" stroke-width="1.1" fill="none"/>
<path d="M187.8 1717.3H895.1M187.8 1800.4H895.1M187.8 1883.9H895.1M187.8 1967.2H895.1M217 1714.6V2018.9M266.88 1714.6V2018.9M316.76 1714.6V2018.9M366.64 1714.6V2018.9M416.52 1714.6V2018.9M466.4 1714.6V2018.9M516.28 1714.6V2018.9M566.16 1714.6V2018.9M616.04 1714.6V2018.9M665.92 1714.6V2018.9M715.8 1714.6V2018.9M765.68 1714.6V2018.9M815.56 1714.6V2018.9M865.44 1714.6V2018.9" stroke="#e6e6e6" stroke-width="2" fill="none"/>
<g font-family="'Liberation Sans',sans-serif" font-size="10" fill="#222" text-anchor="middle">
<text x="217" y="1727.4">*</text>
<text x="266.88" y="1727.4">ns</text>
<text x="316.76" y="1727.4">***</text>
<text x="366.64" y="1727.4">***</text>
<text x="416.52" y="1727.4">ns</text>
<text x="466.4" y="1727.4">**</text>
<text x="516.28" y="1727.4">ns</text>
<text x="566.16" y="1727.4">ns</text>
<text x="616.04" y="1727.4">ns</text>
<text x="665.92" y="1727.4">ns</text>
<text x="715.8" y="1727.4">*</text>
<text x="765.68" y="1727.4">ns</text>
<text x="815.56" y="1727.4">*</text>
<text x="865.44" y="1727.4">ns</text>
</g>
<g stroke="#333333" stroke-width="2.5" fill="none">
<path d="M207.6 1944.52V1957.03M207.6 1975.32V1989.39"/>
<rect x="199.35" y="1958.23" width="16.5" height="15.89" fill="#4DBBD5"/>
<path d="M199.35 1967.19H215.85" stroke-width="4.8"/>
<path d="M226.4 1955V1962.97M226.4 1980.01V1991.89"/>
<rect x="218.15" y="1964.17" width="16.5" height="14.64" fill="#E64B35"/>
<path d="M218.15 1971.88H234.65" stroke-width="4.8"/>
<path d="M257.48 1823.66V1837.11M257.48 1853.06V1868.69"/>
<rect x="249.23" y="1838.31" width="16.5" height="13.55" fill="#4DBBD5"/>
<path d="M249.23 1846.02H265.73" stroke-width="4.8"/>
<path d="M276.28 1819.91V1834.77M276.28 1847.9V1863.69"/>
<rect x="268.03" y="1835.97" width="16.5" height="10.73" fill="#E64B35"/>
<path d="M268.03 1842.11H284.53" stroke-width="4.8"/>
<path d="M307.36 1828.82V1838.52M307.36 1853.06V1862.13"/>
<rect x="299.11" y="1839.72" width="16.5" height="12.14" fill="#4DBBD5"/>
<path d="M299.11 1846.49H315.61" stroke-width="4.8"/>
<path d="M326.16 1812.88V1826.17M326.16 1847.59V1856.97"/>
<rect x="317.91" y="1827.37" width="16.5" height="19.02" fill="#E64B35"/>
<path d="M317.91 1836.33H334.41" stroke-width="4.8"/>
<path d="M357.24 1780.83V1785.05M357.24 1796.77V1805.37"/>
<rect x="348.99" y="1786.25" width="16.5" height="9.32" fill="#4DBBD5"/>
<path d="M348.99 1790.99H365.49" stroke-width="4.8"/>
<path d="M376.04 1780.36V1789.74M376.04 1808.81V1827.26"/>
<rect x="367.79" y="1790.94" width="16.5" height="16.67" fill="#E64B35"/>
<path d="M367.79 1799.59H384.29" stroke-width="4.8"/>
<path d="M407.12 1794.12V1807.25M407.12 1823.66V1843.68"/>
<rect x="398.87" y="1808.45" width="16.5" height="14.01" fill="#4DBBD5"/>
<path d="M398.87 1816H415.37" stroke-width="4.8"/>
<path d="M425.92 1788.96V1807.25M425.92 1825.23V1846.02"/>
<rect x="417.67" y="1808.45" width="16.5" height="15.58" fill="#E64B35"/>
<path d="M417.67 1817.88H434.17" stroke-width="4.8"/>
<path d="M457 1845.24V1859.62M457 1871.51V1877.6"/>
<rect x="448.75" y="1860.82" width="16.5" height="9.49" fill="#4DBBD5"/>
<path d="M448.75 1864H465.25" stroke-width="4.8"/>
<path d="M475.8 1842.58V1853.53M475.8 1867.13V1882.76"/>
<rect x="467.55" y="1854.73" width="16.5" height="11.2" fill="#E64B35"/>
<path d="M467.55 1860.41H484.05" stroke-width="4.8"/>
<path d="M506.88 1817.41V1822.1M506.88 1831.17V1835.86"/>
<rect x="498.63" y="1823.3" width="16.5" height="6.67" fill="#4DBBD5"/>
<path d="M498.63 1826.95H515.13" stroke-width="4.8"/>
<path d="M525.68 1811.63V1822.1M525.68 1842.9V1865.25"/>
<rect x="517.43" y="1823.3" width="16.5" height="18.4" fill="#E64B35"/>
<path d="M517.43 1831.95H533.93" stroke-width="4.8"/>
<path d="M556.76 1775.67V1781.14M556.76 1789.74V1795.21"/>
<rect x="548.51" y="1782.34" width="16.5" height="6.2" fill="#4DBBD5"/>
<path d="M548.51 1785.52H565.01" stroke-width="4.8"/>
<path d="M575.56 1770.66V1779.57M575.56 1793.65V1803.34"/>
<rect x="567.31" y="1780.77" width="16.5" height="11.68" fill="#E64B35"/>
<path d="M567.31 1786.61H583.81" stroke-width="4.8"/>
<path d="M606.64 1833.51V1851.18M606.64 1868.38V1887.77"/>
<rect x="598.39" y="1852.38" width="16.5" height="14.8" fill="#4DBBD5"/>
<path d="M598.39 1860.09H614.89" stroke-width="4.8"/>
<path d="M625.44 1830.08V1850.24M625.44 1876.82V1905.43"/>
<rect x="617.19" y="1851.44" width="16.5" height="24.18" fill="#E64B35"/>
<path d="M617.19 1865.88H633.69" stroke-width="4.8"/>
<path d="M656.52 1760.16V1786.07M656.52 1815.44V1841.34"/>
<rect x="648.27" y="1787.27" width="16.5" height="26.97" fill="#4DBBD5"/>
<path d="M648.27 1801.75H664.77" stroke-width="4.8"/>
<path d="M675.32 1751.04V1780.59M675.32 1809.05V1837.69"/>
<rect x="667.07" y="1781.79" width="16.5" height="26.06" fill="#E64B35"/>
<path d="M667.07 1790.26H683.57" stroke-width="4.8"/>
<path d="M706.4 1806.68V1812.15M706.4 1823.64V1831.85"/>
<rect x="698.15" y="1813.35" width="16.5" height="9.09" fill="#4DBBD5"/>
<path d="M698.15 1817.62H714.65" stroke-width="4.8"/>
<path d="M725.2 1798.47V1807.23M725.2 1819.81V1826.75"/>
<rect x="716.95" y="1808.43" width="16.5" height="10.18" fill="#E64B35"/>
<path d="M716.95 1813.61H733.45" stroke-width="4.8"/>
<path d="M756.28 1828.21V1840.06M756.28 1853.74V1865.05"/>
<rect x="748.03" y="1841.26" width="16.5" height="11.28" fill="#4DBBD5"/>
<path d="M748.03 1847.18H764.53" stroke-width="4.8"/>
<path d="M775.08 1829.85V1840.06M775.08 1851.37V1860.49"/>
<rect x="766.83" y="1841.26" width="16.5" height="8.91" fill="#E64B35"/>
<path d="M766.83 1845.35H783.33" stroke-width="4.8"/>
<path d="M806.16 1733.17V1742.83M806.16 1752.5V1759.62"/>
<rect x="797.91" y="1744.03" width="16.5" height="7.27" fill="#4DBBD5"/>
<path d="M797.91 1748.31H814.41" stroke-width="4.8"/>
<path d="M824.96 1728.24V1738.27M824.96 1750.13V1759.62"/>
<rect x="816.71" y="1739.47" width="16.5" height="9.46" fill="#E64B35"/>
<path d="M816.71 1744.29H833.21" stroke-width="4.8"/>
<path d="M856.04 1811.61V1820.73M856.04 1830.03V1835.87"/>
<rect x="847.79" y="1821.93" width="16.5" height="6.9" fill="#4DBBD5"/>
<path d="M847.79 1825.47H864.29" stroke-width="4.8"/>
<path d="M874.84 1816.17V1820.73M874.84 1831.85V1844.08"/>
<rect x="866.59" y="1821.93" width="16.5" height="8.72" fill="#E64B35"/>
<path d="M866.59 1826.75H883.09" stroke-width="4.8"/>
</g>
<rect x="187.8" y="1714.6" width="707.3" height="304.3" fill="none" stroke="#333333" stroke-width="1.7"/>
<path d="M183.5 1717.3H187.8M183.5 1800.4H187.8M183.5 1883.9H187.8M183.5 1967.2H187.8M217 2018.9V2023.2M266.88 2018.9V2023.2M316.76 2018.9V2023.2M366.64 2018.9V2023.2M416.52 2018.9V2023.2M466.4 2018.9V2023.2M516.28 2018.9V2023.2M566.16 2018.9V2023.2M616.04 2018.9V2023.2M665.92 2018.9V2023.2M715.8 2018.9V2023.2M765.68 2018.9V2023.2M815.56 2018.9V2023.2M865.44 2018.9V2023.2" stroke="#333333" stroke-width="1.6" fill="none"/>
<g font-family="'Liberation Sans',sans-serif" font-size="17.2" fill="#222" text-anchor="end">
<text x="177.9" y="1725.4">0.50</text>
<text x="177.9" y="1808.5">0.25</text>
<text x="177.9" y="1892">0.00</text>
<text x="177.9" y="1975.3">−0.25</text>
</g>
<g font-family="'Liberation Serif',serif" font-size="19.0" fill="#111" text-anchor="end">
<text transform="translate(212.7 2026) rotate(-45)" dy="0.68em">Activated B cell</text>
<text transform="translate(262.48 2026) rotate(-45)" dy="0.68em">Activated CD8 T cell</text>
<text transform="translate(305.86 2026) rotate(-45)" dy="0.68em">CD56dim natural killer cell</text>
<text transform="translate(357.64 2026) rotate(-45)" dy="0.68em">Effector memeory CD4 T cell</text>
<text transform="translate(413.92 2026) rotate(-45)" dy="0.68em">Effector memeory CD8 T cell</text>
<text transform="translate(459.8 2026) rotate(-45)" dy="0.68em">Eosinophil</text>
<text transform="translate(507.58 2026) rotate(-45)" dy="0.68em">Gamma delta T cell</text>
<text transform="translate(563.16 2026) rotate(-45)" dy="0.68em">Immature dendritic cell</text>
<text transform="translate(609.84 2026) rotate(-45)" dy="0.68em">Mast cell</text>
<text transform="translate(665.52 2026) rotate(-45)" dy="0.68em">MDSC</text>
<text transform="translate(717.2 2026) rotate(-45)" dy="0.68em">Natural killer cell</text>
<text transform="translate(763.68 2026) rotate(-45)" dy="0.68em">Natural killer T cell</text>
<text transform="translate(812.66 2026) rotate(-45)" dy="0.68em">Plasmacytoid dendritic cell</text>
<text transform="translate(866.84 2026) rotate(-45)" dy="0.68em">Type 1 T helper cell</text>
</g>
<text transform="translate(134.5 1846) rotate(-90)" font-family="'Liberation Serif',serif" font-size="22.7" fill="#111" text-anchor="middle">Immune Infiltration</text>
<text x="906.2" y="1827.6" font-family="'Liberation Serif',serif" font-size="22.4" fill="#111">HIRIP3</text>
<g stroke="#333333" stroke-width="2.2">
<path d="M919.5 1859.3V1872.6" fill="none"/>
<rect x="913.2" y="1862" width="12.6" height="7.9" fill="#4DBBD5"/>
<path d="M913.2 1865.95H925.8" stroke-width="3.4" fill="none"/>
</g>
<text x="932.8" y="1868.85" font-family="'Liberation Serif',serif" font-size="16.9" fill="#111">Low</text>
<g stroke="#333333" stroke-width="2.2">
<path d="M919.5 1875.35V1888.65" fill="none"/>
<rect x="913.2" y="1878.05" width="12.6" height="7.9" fill="#E64B35"/>
<path d="M913.2 1882H925.8" stroke-width="3.4" fill="none"/>
</g>
<text x="932.8" y="1885.15" font-family="'Liberation Serif',serif" font-size="16.9" fill="#111">High</text>
<rect x="1246.5" y="85.5" width="59.03" height="59.1" fill="#d5edf4"/>
<rect x="1305.23" y="85.5" width="59.03" height="59.1" fill="#cde9f2"/>
<rect x="1363.96" y="85.5" width="59.03" height="59.1" fill="#e5f3f8"/>
<rect x="1246.5" y="144.3" width="59.03" height="59.1" fill="#ffcabd"/>
<rect x="1305.23" y="144.3" width="59.03" height="59.1" fill="#ffd4c9"/>
<rect x="1363.96" y="144.3" width="59.03" height="59.1" fill="#ffd4c9"/>
<rect x="1246.5" y="203.1" width="59.03" height="59.1" fill="#fffcfb"/>
<rect x="1305.23" y="203.1" width="59.03" height="59.1" fill="#fff5f2"/>
<rect x="1363.96" y="203.1" width="59.03" height="59.1" fill="#fff1ee"/>
<rect x="1246.5" y="261.9" width="59.03" height="59.1" fill="#fff6f4"/>
<rect x="1305.23" y="261.9" width="59.03" height="59.1" fill="#fff1ee"/>
<rect x="1363.96" y="261.9" width="59.03" height="59.1" fill="#ffddd4"/>
<rect x="1246.5" y="320.7" width="59.03" height="59.1" fill="#ffc8ba"/>
<rect x="1305.23" y="320.7" width="59.03" height="59.1" fill="#ffe5de"/>
<rect x="1363.96" y="320.7" width="59.03" height="59.1" fill="#fff6f4"/>
<rect x="1246.5" y="379.5" width="59.03" height="59.1" fill="#d5edf4"/>
<rect x="1305.23" y="379.5" width="59.03" height="59.1" fill="#d8eef4"/>
<rect x="1363.96" y="379.5" width="59.03" height="59.1" fill="#e0f1f7"/>
<rect x="1246.5" y="438.3" width="59.03" height="59.1" fill="#c4e5ef"/>
<rect x="1305.23" y="438.3" width="59.03" height="59.1" fill="#d0ebf2"/>
<rect x="1363.96" y="438.3" width="59.03" height="59.1" fill="#ddf0f6"/>
<rect x="1246.5" y="497.1" width="59.03" height="59.1" fill="#96d3e4"/>
<rect x="1305.23" y="497.1" width="59.03" height="59.1" fill="#b8e0ec"/>
<rect x="1363.96" y="497.1" width="59.03" height="59.1" fill="#c8e7f0"/>
<rect x="1246.5" y="555.9" width="59.03" height="59.1" fill="#fcfefe"/>
<rect x="1305.23" y="555.9" width="59.03" height="59.1" fill="#fff1ee"/>
<rect x="1363.96" y="555.9" width="59.03" height="59.1" fill="#ffd4c9"/>
<rect x="1246.5" y="614.7" width="59.03" height="59.1" fill="#fafdfe"/>
<rect x="1305.23" y="614.7" width="59.03" height="59.1" fill="#e8f5f9"/>
<rect x="1363.96" y="614.7" width="59.03" height="59.1" fill="#e9f5f9"/>
<rect x="1246.5" y="673.5" width="59.03" height="59.1" fill="#8dcfe2"/>
<rect x="1305.23" y="673.5" width="59.03" height="59.1" fill="#a7dae8"/>
<rect x="1363.96" y="673.5" width="59.03" height="59.1" fill="#b8e0ec"/>
<rect x="1246.5" y="732.3" width="59.03" height="59.1" fill="#fc9983"/>
<rect x="1305.23" y="732.3" width="59.03" height="59.1" fill="#fd9e89"/>
<rect x="1363.96" y="732.3" width="59.03" height="59.1" fill="#fea48f"/>
<rect x="1246.5" y="791.1" width="59.03" height="59.1" fill="#ffa995"/>
<rect x="1305.23" y="791.1" width="59.03" height="59.1" fill="#ffc6b8"/>
<rect x="1363.96" y="791.1" width="59.03" height="59.1" fill="#ffddd4"/>
<rect x="1246.5" y="849.9" width="59.03" height="59.1" fill="#d8eef4"/>
<rect x="1305.23" y="849.9" width="59.03" height="59.1" fill="#d0ebf2"/>
<rect x="1363.96" y="849.9" width="59.03" height="59.1" fill="#c4e5ef"/>
<g font-family="'Liberation Sans',sans-serif" font-size="23" fill="#111" text-anchor="middle">
<text x="1275.87" y="122.9">*</text>
<text x="1334.6" y="122.9">**</text>
<text x="1275.87" y="181.7">**</text>
<text x="1334.6" y="181.7">*</text>
<text x="1393.33" y="181.7">*</text>
<text x="1275.87" y="358.1">**</text>
<text x="1275.87" y="416.9">**</text>
<text x="1334.6" y="416.9">**</text>
<text x="1393.33" y="416.9">*</text>
<text x="1275.87" y="475.7">***</text>
<text x="1334.6" y="475.7">**</text>
<text x="1393.33" y="475.7">*</text>
<text x="1275.87" y="534.5">***</text>
<text x="1334.6" y="534.5">***</text>
<text x="1393.33" y="534.5">***</text>
<text x="1393.33" y="593.3">*</text>
<text x="1275.87" y="710.9">***</text>
<text x="1334.6" y="710.9">***</text>
<text x="1393.33" y="710.9">***</text>
<text x="1275.87" y="769.7">***</text>
<text x="1334.6" y="769.7">***</text>
<text x="1393.33" y="769.7">***</text>
<text x="1275.87" y="828.5">***</text>
<text x="1334.6" y="828.5">***</text>
<text x="1393.33" y="828.5">*</text>
<text x="1275.87" y="887.3">*</text>
<text x="1334.6" y="887.3">**</text>
<text x="1393.33" y="887.3">***</text>
</g>
<g font-family="'Liberation Serif',serif" font-size="22.85" fill="#111" text-anchor="end">
<text x="1230.4" y="124.5">Type 1 T helper cell</text>
<text x="1230.4" y="183.3">Plasmacytoid dendritic cell</text>
<text x="1230.4" y="242.1">Natural killer T cell</text>
<text x="1230.4" y="300.9">Natural killer cell</text>
<text x="1230.4" y="359.7">MDSC</text>
<text x="1230.4" y="418.5">Mast cell</text>
<text x="1230.4" y="477.3">Immature dendritic cell</text>
<text x="1230.4" y="536.1">Gamma delta T cell</text>
<text x="1230.4" y="594.9">Eosinophil</text>
<text x="1230.4" y="653.7">Effector memeory CD8 T cell</text>
<text x="1230.4" y="712.5">Effector memeory CD4 T cell</text>
<text x="1230.4" y="771.3">CD56dim natural killer cell</text>
<text x="1230.4" y="830.1">Activated CD8 T cell</text>
<text x="1230.4" y="888.9">Activated B cell</text>
</g>
<g font-family="'Liberation Serif',serif" font-size="18.6" fill="#111" text-anchor="end">
<text transform="translate(1279.37 916.2) rotate(-45)" dy="0.68em">MAP4</text>
<text transform="translate(1338.1 916.2) rotate(-45)" dy="0.68em">GPT</text>
<text transform="translate(1396.83 916.2) rotate(-45)" dy="0.68em">HIRIP3</text>
</g>
<defs><linearGradient id="cb" x1="0" y1="0" x2="0" y2="1"><stop offset="0" stop-color="#e64b35"/><stop offset="0.05" stop-color="#ec6048"/><stop offset="0.1" stop-color="#f2735b"/><stop offset="0.15" stop-color="#f7866e"/><stop offset="0.2" stop-color="#fb9781"/><stop offset="0.25" stop-color="#ffa995"/><stop offset="0.3" stop-color="#ffbaaa"/><stop offset="0.35" stop-color="#ffcbbf"/><stop offset="0.4" stop-color="#ffddd4"/><stop offset="0.45" stop-color="#ffeee9"/><stop offset="0.5" stop-color="#ffffff"/><stop offset="0.55" stop-color="#f0f8fb"/><stop offset="0.6" stop-color="#e0f1f7"/><stop offset="0.65" stop-color="#d0ebf2"/><stop offset="0.7" stop-color="#c0e4ee"/><stop offset="0.75" stop-color="#b0ddea"/><stop offset="0.8" stop-color="#9fd6e6"/><stop offset="0.85" stop-color="#8dcfe2"/><stop offset="0.9" stop-color="#7ac9dd"/><stop offset="0.95" stop-color="#65c2d9"/><stop offset="1" stop-color="#4dbbd5"/></linearGradient></defs>
<rect x="1440.6" y="423.2" width="36.2" height="180.3" fill="url(#cb)"/>
<path d="M1440.6 423.6h7.2M1476.8 423.6h-7.2M1440.6 468.3h7.2M1476.8 468.3h-7.2M1440.6 513.3h7.2M1476.8 513.3h-7.2M1440.6 558.4h7.2M1476.8 558.4h-7.2M1440.6 603.1h7.2M1476.8 603.1h-7.2" stroke="#fff" stroke-width="1.1" fill="none"/>
<text x="1440.4" y="408" font-family="'Liberation Serif',serif" font-size="19" fill="#111">Correlation</text>
<g font-family="'Liberation Sans',sans-serif" font-size="18.5" fill="#111">
<text x="1488.6" y="429.8">1.0</text>
<text x="1488.6" y="474.5">0.5</text>
<text x="1488.6" y="519.5">0.0</text>
<text x="1488.6" y="564.6">−0.5</text>
<text x="1488.6" y="609.3">−1.0</text>
</g>
</svg></body></html>
